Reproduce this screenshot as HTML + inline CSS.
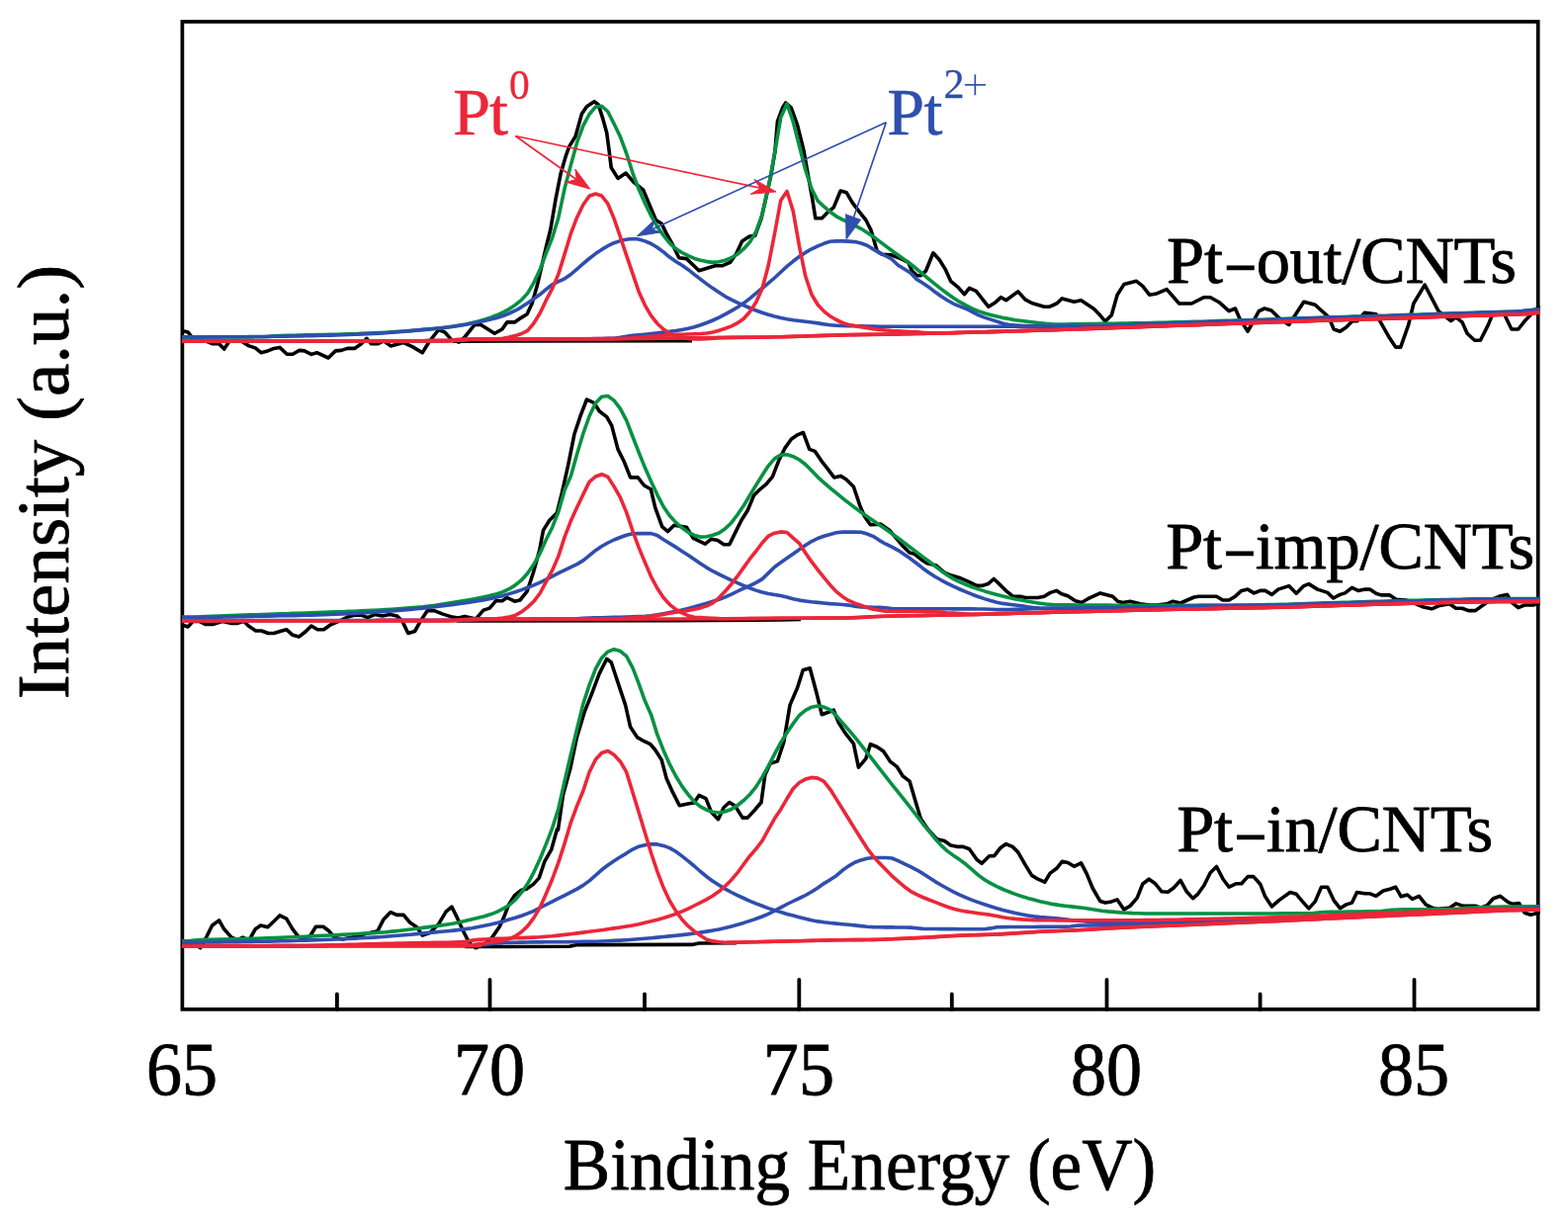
<!DOCTYPE html>
<html lang="en">
<head>
<meta charset="utf-8">
<title>Pt 4f XPS spectra</title>
<style>
html,body{margin:0;padding:0;background:#fff;}
body{width:1586px;height:1240px;overflow:hidden;}
svg{display:block;}
text{font-kerning:normal;stroke-linejoin:round;}
.k{fill:#000;stroke:#000;stroke-width:0.8px;}
.r{fill:#ec2639;stroke:#ec2639;stroke-width:0.5px;}
.b{fill:#2f4eae;stroke:#2f4eae;stroke-width:0.5px;}
</style>
</head>
<body>
<svg width="1586" height="1240" viewBox="0 0 1586 1240" role="img" aria-label="Pt 4f XPS spectra of Pt-out/CNTs, Pt-imp/CNTs and Pt-in/CNTs">
<rect width="1586" height="1240" fill="#fff"/>
<rect x="184.4" y="21.9" width="1371.3" height="998.95" fill="none" stroke="#000" stroke-width="3.7"/>
<path d="M495.5 1021 V991 M808.3 1021 V991 M1119.5 1021 V991 M1430.5 1021 V991 M340.9 1021 V1005.5 M652.0 1021 V1005.5 M962.8 1021 V1005.5 M1274.6 1021 V1005.5" stroke="#000" stroke-width="3.8" stroke-linecap="round" fill="none"/>
<clipPath id="c"><rect x="184.1" y="21.9" width="1373.6" height="998.95"/></clipPath>
<g clip-path="url(#c)">
<path d="M470.0 957.5 L576.0 957.3 L584.0 955.6 L700.0 955.4 L707.0 954.0 L745.0 953.7" fill="none" stroke="#000" stroke-width="3.6" stroke-linejoin="round" stroke-linecap="butt" />
<path d="M184.0 954.9 L185.0 954.9 L195.1 953.6 L202.7 958.7 L209.0 947.3 L214.6 936.0 L221.6 930.9 L226.7 939.8 L234.2 948.1 L240.5 950.6 L245.6 948.1 L251.9 951.1 L258.2 939.8 L263.7 936.0 L270.8 937.8 L277.1 931.7 L282.9 925.9 L289.7 929.2 L296.0 939.8 L302.3 947.8 L308.6 948.6 L313.7 946.8 L319.5 937.3 L327.0 937.3 L332.6 941.5 L338.9 948.6 L346.5 949.9 L356.5 948.1 L366.6 945.3 L381.8 941.8 L388.1 929.7 L395.1 922.6 L401.4 925.4 L408.2 925.4 L414.6 933.0 L421.6 937.8 L427.2 946.1 L434.7 943.6 L443.6 934.7 L451.1 922.1 L456.9 917.1 L462.5 928.4 L468.8 942.3 L474.6 953.6 L481.4 958.7 L490.2 954.9 L497.8 948.1 L505.3 937.3 L510.4 925.9 L514.2 915.8 L520.5 905.7 L527.5 900.2 L533.1 898.9 L539.4 894.4 L545.2 888.1 L550.7 871.7 L557.8 859.1 L563.4 838.9 L564.5 839.2 L569.5 803.9 L577.1 776.2 L583.4 745.9 L591.0 720.7 L598.5 701.8 L606.1 681.6 L613.7 666.5 L618.2 669.8 L625.0 690.4 L632.6 713.1 L637.6 735.3 L644.7 745.9 L651.5 749.7 L657.8 752.7 L662.8 758.5 L669.2 768.6 L674.2 787.5 L680.5 801.4 L687.3 814.8 L696.9 812.8 L701.9 812.0 L707.0 804.4 L714.0 807.7 L719.6 821.6 L726.4 828.7 L732.2 816.5 L737.8 811.5 L743.6 815.3 L751.1 827.1 L756.2 827.1 L762.5 820.3 L770.0 811.5 L773.8 783.8 L778.9 772.4 L786.4 769.9 L792.7 751.0 L799.0 713.1 L806.6 695.5 L812.2 677.8 L819.2 675.8 L825.5 699.3 L831.3 722.7 L843.2 718.2 L848.2 730.8 L854.5 740.9 L863.4 752.2 L868.4 776.2 L875.8 767.4 L880.4 752.7 L887.2 755.5 L893.5 759.8 L900.6 770.4 L907.4 775.7 L913.2 785.0 L920.0 790.1 L926.3 811.5 L931.3 827.9 L938.9 839.2 L947.7 848.8 L955.3 850.6 L961.6 854.9 L969.2 856.4 L974.2 856.4 L980.5 858.7 L988.1 869.5 L993.1 873.3 L1000.7 865.7 L1005.7 865.7 L1012.0 857.4 L1017.6 853.6 L1024.1 856.4 L1029.7 861.9 L1037.3 875.1 L1043.6 885.4 L1049.9 889.2 L1056.7 892.2 L1062.0 883.4 L1068.8 878.3 L1074.3 871.3 L1080.1 872.5 L1086.4 876.3 L1093.5 872.8 L1099.0 883.4 L1105.3 898.5 L1112.9 911.6 L1118.0 913.1 L1124.3 911.9 L1130.1 909.9 L1136.9 919.9 L1143.2 916.2 L1150.2 908.1 L1155.8 894.0 L1162.1 889.2 L1167.6 893.0 L1170.0 895.5 L1175.0 901.8 L1181.3 902.3 L1187.2 898.0 L1194.0 890.4 L1200.3 901.8 L1206.6 908.6 L1211.6 904.3 L1217.9 895.5 L1224.2 882.8 L1230.5 876.5 L1236.8 888.7 L1243.1 897.2 L1250.7 893.7 L1255.8 893.7 L1262.1 886.6 L1267.9 886.6 L1274.7 894.2 L1279.7 906.8 L1286.5 916.9 L1293.6 910.6 L1304.9 902.5 L1311.2 904.3 L1317.5 911.9 L1323.8 918.9 L1330.2 911.9 L1336.5 897.2 L1342.8 897.2 L1349.1 910.6 L1355.4 918.7 L1361.7 914.9 L1367.5 913.1 L1372.5 902.5 L1380.6 903.8 L1385.6 903.8 L1391.9 906.3 L1399.0 901.0 L1405.8 899.2 L1411.6 897.2 L1417.2 906.8 L1423.5 905.0 L1428.5 909.3 L1435.3 906.3 L1442.4 915.1 L1448.7 918.2 L1455.0 919.4 L1466.3 918.2 L1472.6 913.9 L1480.2 916.4 L1492.8 916.4 L1497.9 918.2 L1504.2 915.6 L1510.5 908.8 L1517.5 906.3 L1525.6 912.6 L1530.7 914.4 L1536.5 913.6 L1542.0 923.2 L1548.3 925.2 L1555.9 923.2 L1557.8 923.2" fill="none" stroke="#000" stroke-width="3.6" stroke-linejoin="round" stroke-linecap="butt" />
<path d="M184.0 951.9 L190.2 951.7 L196.5 951.1 L202.7 950.6 L209.0 950.4 L215.2 950.2 L221.5 950.1 L227.7 950.0 L234.0 949.8 L240.2 949.7 L246.4 949.6 L252.7 949.4 L258.9 949.3 L265.2 949.0 L271.4 948.8 L277.7 948.6 L283.9 948.3 L290.2 948.0 L296.4 947.8 L302.6 947.5 L308.9 947.2 L315.1 946.9 L321.4 946.6 L327.6 946.3 L333.9 946.0 L340.1 945.7 L346.4 945.4 L352.6 945.0 L358.8 944.7 L365.1 944.3 L371.3 943.9 L377.6 943.6 L383.8 943.1 L390.1 942.7 L396.3 942.1 L402.6 941.5 L408.8 940.8 L415.0 940.0 L421.3 939.2 L427.5 938.4 L433.8 937.6 L440.0 936.8 L446.3 935.9 L452.5 935.0 L458.8 934.0 L465.0 932.7 L471.2 931.2 L477.5 929.7 L483.7 928.3 L490.0 926.7 L496.2 924.8 L502.5 922.3 L508.7 919.2 L515.0 915.5 L521.2 910.2 L527.5 902.7 L533.7 893.8 L539.9 882.3 L546.2 868.7 L552.4 853.6 L558.7 837.4 L564.9 817.7 L571.2 789.7 L577.4 763.0 L583.7 736.8 L589.9 711.8 L596.1 692.9 L602.4 676.7 L608.6 665.4 L614.9 659.1 L621.1 656.8 L627.4 658.6 L633.6 663.7 L639.9 675.3 L646.1 691.3 L652.3 708.8 L658.6 722.9 L664.8 742.9 L671.1 758.9 L677.3 772.9 L683.6 785.0 L689.8 795.1 L696.1 803.6 L702.3 810.8 L708.5 815.8 L714.8 819.2 L721.0 821.3 L727.3 822.0 L733.5 820.8 L739.8 818.5 L746.0 814.5 L752.3 809.5 L758.5 803.5 L764.7 795.9 L771.0 785.9 L777.2 774.8 L783.5 762.6 L789.7 751.2 L796.0 741.0 L802.2 731.9 L808.5 723.5 L814.7 718.4 L820.9 715.2 L827.2 713.9 L833.4 715.1 L839.7 717.8 L845.9 723.9 L852.2 731.1 L858.4 738.2 L864.7 745.7 L870.9 753.4 L877.1 761.3 L883.4 769.3 L889.6 777.4 L895.9 785.4 L902.1 793.3 L908.4 801.1 L914.6 808.9 L920.9 816.8 L927.1 824.9 L933.3 833.0 L939.6 840.6 L945.8 848.2 L952.1 855.1 L958.3 860.9 L964.6 865.4 L970.8 869.6 L977.1 874.3 L983.3 879.7 L989.5 885.1 L995.8 889.7 L1002.0 893.4 L1008.3 896.6 L1014.5 899.5 L1020.8 902.0 L1027.0 904.4 L1033.3 906.5 L1039.5 908.4 L1045.7 910.1 L1052.0 911.7 L1058.2 913.1 L1064.5 914.4 L1070.7 915.4 L1077.0 916.2 L1083.2 916.9 L1089.5 917.6 L1095.7 918.3 L1101.9 919.2 L1108.2 920.2 L1114.4 921.2 L1120.7 921.9 L1126.9 922.4 L1133.2 922.9 L1139.4 923.2 L1145.7 923.6 L1151.9 923.8 L1158.1 924.0 L1164.4 924.0 L1170.6 924.0 L1176.9 924.0 L1183.1 924.0 L1189.4 924.0 L1195.6 924.0 L1201.9 924.0 L1208.1 924.0 L1214.3 924.0 L1220.6 924.0 L1226.8 924.0 L1233.1 924.0 L1239.3 924.0 L1245.6 924.0 L1251.8 924.0 L1258.1 924.0 L1264.3 924.0 L1270.6 924.0 L1276.8 924.0 L1283.0 924.0 L1289.3 924.0 L1295.5 923.9 L1301.8 923.9 L1308.0 923.9 L1314.3 923.8 L1320.5 923.8 L1326.8 923.7 L1333.0 923.1 L1339.2 922.5 L1345.5 922.3 L1351.7 922.2 L1358.0 922.2 L1364.2 922.1 L1370.5 922.1 L1376.7 922.0 L1383.0 921.9 L1389.2 921.8 L1395.4 921.7 L1401.7 921.0 L1407.9 920.2 L1414.2 920.0 L1420.4 919.9 L1426.7 919.8 L1432.9 919.8 L1439.2 919.7 L1445.4 919.7 L1451.6 919.6 L1457.9 919.6 L1464.1 919.5 L1470.4 919.4 L1476.6 919.0 L1482.9 918.4 L1489.1 918.0 L1495.4 917.8 L1501.6 917.6 L1507.8 917.4 L1514.1 917.2 L1520.3 917.1 L1526.6 917.1 L1532.8 917.0 L1539.1 916.9 L1545.3 916.8 L1551.6 916.8 L1557.8 916.8" fill="none" stroke="#059142" stroke-width="3.6" stroke-linejoin="round" stroke-linecap="butt" />
<path d="M184.0 953.1 L190.2 953.1 L196.5 953.1 L202.7 953.1 L209.0 953.0 L215.2 953.0 L221.5 952.9 L227.7 952.8 L234.0 952.7 L240.2 952.6 L246.4 952.5 L252.7 952.4 L258.9 952.3 L265.2 952.2 L271.4 952.1 L277.7 952.0 L283.9 951.8 L290.2 951.7 L296.4 951.5 L302.6 951.3 L308.9 951.1 L315.1 950.9 L321.4 950.7 L327.6 950.5 L333.9 950.3 L340.1 950.0 L346.4 949.8 L352.6 949.5 L358.8 949.2 L365.1 948.8 L371.3 948.5 L377.6 948.1 L383.8 947.7 L390.1 947.3 L396.3 946.8 L402.6 946.3 L408.8 945.7 L415.0 945.2 L421.3 944.6 L427.5 944.0 L433.8 943.4 L440.0 942.9 L446.3 942.3 L452.5 941.7 L458.8 941.1 L465.0 940.4 L471.2 939.6 L477.5 938.7 L483.7 937.6 L490.0 936.3 L496.2 935.0 L502.5 933.5 L508.7 931.9 L515.0 930.1 L521.2 928.2 L527.5 926.2 L533.7 923.9 L539.9 921.3 L546.2 918.2 L552.4 915.0 L558.7 911.9 L564.9 908.7 L571.2 905.6 L577.4 902.4 L583.7 899.1 L589.9 895.4 L596.1 890.9 L602.4 885.4 L608.6 879.8 L614.9 875.0 L621.1 870.7 L627.4 866.8 L633.6 863.1 L639.9 859.1 L646.1 856.2 L652.3 854.7 L658.6 853.8 L664.8 853.9 L671.1 855.4 L677.3 857.6 L683.6 861.2 L689.8 865.9 L696.1 870.8 L702.3 876.0 L708.5 881.5 L714.8 886.7 L721.0 891.2 L727.3 895.3 L733.5 899.1 L739.8 902.5 L746.0 905.6 L752.3 908.5 L758.5 911.3 L764.7 913.9 L771.0 916.3 L777.2 918.6 L783.5 920.6 L789.7 922.6 L796.0 924.4 L802.2 926.1 L808.5 927.7 L814.7 929.3 L820.9 930.8 L827.2 931.9 L833.4 932.8 L839.7 933.5 L845.9 934.1 L852.2 934.7 L858.4 935.2 L864.7 935.9 L870.9 936.6 L877.1 937.2 L883.4 937.6 L889.6 937.8 L895.9 937.9 L902.1 937.9 L908.4 938.0 L914.6 938.0 L920.9 938.1 L927.1 938.7 L933.3 939.4 L939.6 939.5 L945.8 939.5 L952.1 939.6 L958.3 939.6 L964.6 939.6 L970.8 939.7 L977.1 939.7 L983.3 939.7 L989.5 939.7 L995.8 939.7 L1002.0 938.9 L1008.3 937.7 L1014.5 937.6 L1020.8 937.5 L1027.0 937.5 L1033.3 937.5 L1039.5 937.5 L1045.7 937.5 L1052.0 937.4 L1058.2 937.4 L1064.5 937.4 L1070.7 937.3 L1077.0 937.3 L1083.2 937.0 L1089.5 936.1 L1095.7 936.0 L1101.9 936.0 L1108.2 936.0 L1114.4 935.9 L1120.7 935.9 L1126.9 935.9 L1133.2 935.8 L1139.4 935.3 L1145.7 934.4 L1151.9 934.2 L1158.1 934.0 L1164.4 933.8 L1170.6 933.7 L1176.9 933.6 L1183.1 933.5 L1189.4 933.4 L1195.6 933.2 L1201.9 933.0 L1208.1 932.7 L1214.3 932.5 L1220.6 932.3 L1226.8 932.1 L1233.1 931.9 L1239.3 931.6 L1245.6 931.4 L1251.8 931.2 L1258.1 931.0 L1264.3 930.7 L1270.6 930.5 L1276.8 930.3 L1283.0 930.1 L1289.3 929.9 L1295.5 929.7 L1301.8 929.4 L1308.0 929.2 L1314.3 928.9 L1320.5 928.6 L1326.8 928.3 L1333.0 928.0 L1339.2 927.7 L1345.5 927.4 L1351.7 927.1 L1358.0 926.8 L1364.2 926.5 L1370.5 926.3 L1376.7 926.0 L1383.0 925.7 L1389.2 925.5 L1395.4 925.2 L1401.7 924.9 L1407.9 924.7 L1414.2 924.4 L1420.4 924.2 L1426.7 923.9 L1432.9 923.6 L1439.2 923.4 L1445.4 923.1 L1451.6 922.9 L1457.9 922.6 L1464.1 922.4 L1470.4 922.1 L1476.6 921.8 L1482.9 921.6 L1489.1 921.3 L1495.4 921.0 L1501.6 920.8 L1507.8 920.5 L1514.1 920.2 L1520.3 920.0 L1526.6 919.7 L1532.8 919.4 L1539.1 919.1 L1545.3 918.8 L1551.6 918.6 L1557.8 918.6" fill="none" stroke="#2f4eae" stroke-width="3.6" stroke-linejoin="round" stroke-linecap="butt" />
<path d="M184.0 956.6 L190.2 956.6 L196.5 956.6 L202.7 956.6 L209.0 956.6 L215.2 956.5 L221.5 956.5 L227.7 956.5 L234.0 956.5 L240.2 956.5 L246.4 956.5 L252.7 956.5 L258.9 956.5 L265.2 956.5 L271.4 956.5 L277.7 956.4 L283.9 956.4 L290.2 956.4 L296.4 956.4 L302.6 956.4 L308.9 956.4 L315.1 956.4 L321.4 956.4 L327.6 956.4 L333.9 956.3 L340.1 956.3 L346.4 956.3 L352.6 956.3 L358.8 956.3 L365.1 956.3 L371.3 956.3 L377.6 956.3 L383.8 956.3 L390.1 956.3 L396.3 956.2 L402.6 956.2 L408.8 956.2 L415.0 956.2 L421.3 956.2 L427.5 956.2 L433.8 956.2 L440.0 956.2 L446.3 956.2 L452.5 956.1 L458.8 956.1 L465.0 956.1 L471.2 956.1 L477.5 956.1 L483.7 956.0 L490.0 955.5 L496.2 954.8 L502.5 954.0 L508.7 953.5 L515.0 953.4 L521.2 953.2 L527.5 953.1 L533.7 953.0 L539.9 952.9 L546.2 952.9 L552.4 952.8 L558.7 952.8 L564.9 952.7 L571.2 952.7 L577.4 952.6 L583.7 952.5 L589.9 952.4 L596.1 952.3 L602.4 952.2 L608.6 952.0 L614.9 951.7 L621.1 951.4 L627.4 951.1 L633.6 950.7 L639.9 950.2 L646.1 949.7 L652.3 949.2 L658.6 948.7 L664.8 948.1 L671.1 947.5 L677.3 946.9 L683.6 946.3 L689.8 945.6 L696.1 944.9 L702.3 944.0 L708.5 943.1 L714.8 942.1 L721.0 941.1 L727.3 939.9 L733.5 938.5 L739.8 936.9 L746.0 935.2 L752.3 933.4 L758.5 931.4 L764.7 929.3 L771.0 927.0 L777.2 924.4 L783.5 921.2 L789.7 917.8 L796.0 914.5 L802.2 911.5 L808.5 908.5 L814.7 905.5 L820.9 902.0 L827.2 897.9 L833.4 893.6 L839.7 889.7 L845.9 885.7 L852.2 880.3 L858.4 875.9 L864.7 872.2 L870.9 869.9 L877.1 868.2 L883.4 867.5 L889.6 867.5 L895.9 867.5 L902.1 868.0 L908.4 870.7 L914.6 873.7 L920.9 876.6 L927.1 879.8 L933.3 883.4 L939.6 887.6 L945.8 891.6 L952.1 895.3 L958.3 898.8 L964.6 902.2 L970.8 905.2 L977.1 907.9 L983.3 910.4 L989.5 912.6 L995.8 914.8 L1002.0 916.8 L1008.3 918.7 L1014.5 920.5 L1020.8 922.1 L1027.0 923.5 L1033.3 924.8 L1039.5 925.9 L1045.7 926.9 L1052.0 927.6 L1058.2 928.1 L1064.5 928.6 L1070.7 929.1 L1077.0 929.7 L1083.2 930.6 L1089.5 931.2 L1095.7 931.8 L1101.9 932.4 L1108.2 932.9 L1114.4 933.2 L1120.7 933.4 L1126.9 933.5 L1133.2 933.6 L1139.4 933.7 L1145.7 933.7 L1151.9 933.8 L1158.1 933.8 L1164.4 933.8 L1170.6 933.7 L1176.9 933.6 L1183.1 933.4 L1189.4 933.2 L1195.6 932.9 L1201.9 932.7 L1208.1 932.6 L1214.3 932.4 L1220.6 932.2 L1226.8 932.0 L1233.1 931.8 L1239.3 931.6 L1245.6 931.4 L1251.8 931.2 L1258.1 931.0 L1264.3 930.7 L1270.6 930.5 L1276.8 930.3 L1283.0 930.1 L1289.3 929.9 L1295.5 929.7 L1301.8 929.4 L1308.0 929.2 L1314.3 928.9 L1320.5 928.6 L1326.8 928.3 L1333.0 928.0 L1339.2 927.7 L1345.5 927.4 L1351.7 927.1 L1358.0 926.8 L1364.2 926.5 L1370.5 926.3 L1376.7 926.0 L1383.0 925.7 L1389.2 925.5 L1395.4 925.2 L1401.7 924.9 L1407.9 924.7 L1414.2 924.4 L1420.4 924.2 L1426.7 923.9 L1432.9 923.6 L1439.2 923.4 L1445.4 923.1 L1451.6 922.9 L1457.9 922.6 L1464.1 922.4 L1470.4 922.1 L1476.6 921.8 L1482.9 921.6 L1489.1 921.3 L1495.4 921.0 L1501.6 920.8 L1507.8 920.5 L1514.1 920.2 L1520.3 920.0 L1526.6 919.7 L1532.8 919.4 L1539.1 919.1 L1545.3 918.8 L1551.6 918.6 L1557.8 918.6" fill="none" stroke="#2f4eae" stroke-width="3.6" stroke-linejoin="round" stroke-linecap="butt" />
<path d="M184.0 957.1 L190.2 957.1 L196.5 957.1 L202.7 957.1 L209.0 957.1 L215.2 957.0 L221.5 957.0 L227.7 957.0 L234.0 957.0 L240.2 957.0 L246.4 957.0 L252.7 957.0 L258.9 957.0 L265.2 957.0 L271.4 957.0 L277.7 956.9 L283.9 956.9 L290.2 956.9 L296.4 956.9 L302.6 956.9 L308.9 956.9 L315.1 956.9 L321.4 956.9 L327.6 956.9 L333.9 956.8 L340.1 956.8 L346.4 956.8 L352.6 956.8 L358.8 956.8 L365.1 956.8 L371.3 956.8 L377.6 956.8 L383.8 956.8 L390.1 956.8 L396.3 956.7 L402.6 956.7 L408.8 956.7 L415.0 956.7 L421.3 956.7 L427.5 956.7 L433.8 956.7 L440.0 956.7 L446.3 956.7 L452.5 956.6 L458.8 956.6 L465.0 956.6 L471.2 956.6 L477.5 955.8 L483.7 954.8 L490.0 954.0 L496.2 953.3 L502.5 952.4 L508.7 951.3 L515.0 949.6 L521.2 947.0 L527.5 942.5 L533.7 936.6 L539.9 928.4 L546.2 917.8 L552.4 903.9 L558.7 889.0 L564.9 872.2 L571.2 852.6 L577.4 831.8 L583.7 814.9 L589.9 799.8 L596.1 781.0 L602.4 768.3 L608.6 761.5 L614.9 759.5 L621.1 763.5 L627.4 770.2 L633.6 780.9 L639.9 801.2 L646.1 821.6 L652.3 842.0 L658.6 862.8 L664.8 881.3 L671.1 897.8 L677.3 911.0 L683.6 921.4 L689.8 930.0 L696.1 936.7 L702.3 941.9 L708.5 946.3 L714.8 950.3 L721.0 951.9 L727.3 952.8 L733.5 953.3 L739.8 953.4 L746.0 953.3 L752.3 953.1 L758.5 952.8 L764.7 952.7 L771.0 952.5 L777.2 952.4 L783.5 952.3 L789.7 952.1 L796.0 952.0 L802.2 951.8 L808.5 951.7 L814.7 951.5 L820.9 951.4 L827.2 951.2 L833.4 951.1 L839.7 950.9 L845.9 950.8 L852.2 950.7 L858.4 950.7 L864.7 950.6 L870.9 950.6 L877.1 950.5 L883.4 950.4 L889.6 950.3 L895.9 950.0 L902.1 949.7 L908.4 949.5 L914.6 949.2 L920.9 948.9 L927.1 948.6 L933.3 948.3 L939.6 948.0 L945.8 947.6 L952.1 947.2 L958.3 946.8 L964.6 946.5 L970.8 946.2 L977.1 946.0 L983.3 945.8 L989.5 945.6 L995.8 945.4 L1002.0 945.2 L1008.3 944.9 L1014.5 944.6 L1020.8 944.2 L1027.0 943.9 L1033.3 943.5 L1039.5 943.1 L1045.7 942.7 L1052.0 942.3 L1058.2 942.0 L1064.5 941.7 L1070.7 941.5 L1077.0 941.3 L1083.2 941.1 L1089.5 940.8 L1095.7 940.5 L1101.9 940.1 L1108.2 939.7 L1114.4 939.2 L1120.7 938.9 L1126.9 938.6 L1133.2 938.3 L1139.4 938.0 L1145.7 937.7 L1151.9 937.5 L1158.1 937.2 L1164.4 936.9 L1170.6 936.7 L1176.9 936.4 L1183.1 936.2 L1189.4 935.9 L1195.6 935.7 L1201.9 935.4 L1208.1 935.2 L1214.3 934.9 L1220.6 934.6 L1226.8 934.4 L1233.1 934.1 L1239.3 933.8 L1245.6 933.5 L1251.8 933.3 L1258.1 933.0 L1264.3 932.7 L1270.6 932.5 L1276.8 932.2 L1283.0 931.9 L1289.3 931.7 L1295.5 931.4 L1301.8 931.1 L1308.0 930.8 L1314.3 930.5 L1320.5 930.2 L1326.8 929.9 L1333.0 929.6 L1339.2 929.3 L1345.5 929.0 L1351.7 928.7 L1358.0 928.5 L1364.2 928.2 L1370.5 927.9 L1376.7 927.6 L1383.0 927.3 L1389.2 927.0 L1395.4 926.7 L1401.7 926.4 L1407.9 926.1 L1414.2 925.8 L1420.4 925.5 L1426.7 925.2 L1432.9 925.0 L1439.2 924.7 L1445.4 924.4 L1451.6 924.1 L1457.9 923.8 L1464.1 923.5 L1470.4 923.2 L1476.6 922.9 L1482.9 922.6 L1489.1 922.3 L1495.4 922.0 L1501.6 921.7 L1507.8 921.4 L1514.1 921.2 L1520.3 921.0 L1526.6 920.8 L1532.8 920.6 L1539.1 920.5 L1545.3 920.3 L1551.6 920.1 L1557.8 920.1" fill="none" stroke="#ec2639" stroke-width="3.6" stroke-linejoin="round" stroke-linecap="butt" />
<path d="M184.0 957.1 L190.2 957.1 L196.5 957.1 L202.7 957.1 L209.0 957.1 L215.2 957.0 L221.5 957.0 L227.7 957.0 L234.0 957.0 L240.2 957.0 L246.4 957.0 L252.7 957.0 L258.9 957.0 L265.2 957.0 L271.4 957.0 L277.7 956.9 L283.9 956.9 L290.2 956.9 L296.4 956.9 L302.6 956.9 L308.9 956.7 L315.1 956.5 L321.4 956.3 L327.6 956.0 L333.9 955.8 L340.1 955.7 L346.4 955.5 L352.6 955.3 L358.8 955.2 L365.1 955.0 L371.3 954.9 L377.6 954.7 L383.8 954.6 L390.1 954.4 L396.3 954.3 L402.6 954.1 L408.8 954.0 L415.0 953.8 L421.3 953.7 L427.5 953.6 L433.8 953.5 L440.0 953.4 L446.3 953.3 L452.5 953.2 L458.8 953.0 L465.0 952.7 L471.2 952.4 L477.5 951.1 L483.7 950.4 L490.0 950.0 L496.2 949.7 L502.5 949.4 L508.7 949.2 L515.0 949.0 L521.2 948.8 L527.5 948.6 L533.7 948.4 L539.9 948.1 L546.2 947.8 L552.4 947.3 L558.7 946.8 L564.9 946.1 L571.2 945.4 L577.4 944.7 L583.7 943.9 L589.9 943.1 L596.1 942.3 L602.4 941.5 L608.6 940.7 L614.9 939.8 L621.1 938.9 L627.4 938.0 L633.6 937.0 L639.9 935.9 L646.1 934.7 L652.3 933.3 L658.6 931.8 L664.8 930.2 L671.1 928.4 L677.3 926.5 L683.6 924.4 L689.8 921.9 L696.1 919.1 L702.3 916.0 L708.5 912.9 L714.8 909.6 L721.0 906.0 L727.3 901.6 L733.5 896.2 L739.8 889.9 L746.0 882.7 L752.3 874.0 L758.5 865.7 L764.7 858.6 L771.0 850.4 L777.2 839.1 L783.5 827.8 L789.7 818.7 L796.0 807.8 L802.2 797.8 L808.5 791.5 L814.7 788.1 L820.9 786.4 L827.2 787.1 L833.4 790.3 L839.7 798.3 L845.9 808.1 L852.2 818.2 L858.4 828.3 L864.7 838.4 L870.9 848.2 L877.1 858.0 L883.4 866.3 L889.6 873.1 L895.9 879.5 L902.1 885.8 L908.4 891.4 L914.6 896.7 L920.9 901.3 L927.1 904.7 L933.3 907.5 L939.6 910.0 L945.8 912.4 L952.1 914.9 L958.3 917.3 L964.6 919.3 L970.8 920.8 L977.1 921.9 L983.3 922.8 L989.5 923.7 L995.8 924.5 L1002.0 925.4 L1008.3 926.6 L1014.5 927.8 L1020.8 928.7 L1027.0 929.4 L1033.3 929.9 L1039.5 930.3 L1045.7 930.6 L1052.0 930.7 L1058.2 930.8 L1064.5 930.8 L1070.7 930.9 L1077.0 930.9 L1083.2 930.9 L1089.5 930.9 L1095.7 930.9 L1101.9 930.9 L1108.2 930.9 L1114.4 930.9 L1120.7 930.8 L1126.9 930.8 L1133.2 930.8 L1139.4 930.7 L1145.7 930.7 L1151.9 930.7 L1158.1 930.6 L1164.4 930.6 L1170.6 930.5 L1176.9 930.4 L1183.1 930.3 L1189.4 930.2 L1195.6 930.1 L1201.9 929.9 L1208.1 929.8 L1214.3 929.6 L1220.6 929.5 L1226.8 929.4 L1233.1 929.2 L1239.3 929.1 L1245.6 929.0 L1251.8 928.8 L1258.1 928.7 L1264.3 928.6 L1270.6 928.4 L1276.8 928.3 L1283.0 928.1 L1289.3 927.9 L1295.5 927.7 L1301.8 927.5 L1308.0 927.3 L1314.3 927.1 L1320.5 926.8 L1326.8 926.6 L1333.0 926.3 L1339.2 926.0 L1345.5 925.7 L1351.7 925.5 L1358.0 925.2 L1364.2 924.9 L1370.5 924.7 L1376.7 924.4 L1383.0 924.2 L1389.2 923.9 L1395.4 923.7 L1401.7 923.4 L1407.9 923.2 L1414.2 923.0 L1420.4 922.7 L1426.7 922.5 L1432.9 922.2 L1439.2 922.0 L1445.4 921.8 L1451.6 921.6 L1457.9 921.3 L1464.1 921.1 L1470.4 920.9 L1476.6 920.7 L1482.9 920.4 L1489.1 920.1 L1495.4 919.8 L1501.6 919.6 L1507.8 919.4 L1514.1 919.2 L1520.3 919.2 L1526.6 919.3 L1532.8 919.4 L1539.1 919.5 L1545.3 919.7 L1551.6 919.8 L1557.8 919.8" fill="none" stroke="#ec2639" stroke-width="3.6" stroke-linejoin="round" stroke-linecap="butt" />
<path d="M184.0 957.1 L480.0 956.6 L487.0 956.5" fill="none" stroke="#ec2639" stroke-width="3.6" stroke-linejoin="round" stroke-linecap="butt" />
<path d="M735.0 953.4 L860.0 950.5 L885.0 950.5 L930.6 948.5 L973.5 946.0 L1011.0 945.0 L1051.7 942.2 L1087.0 941.0 L1124.8 938.6 L1162.7 937.0 L1200.5 935.5 L1260.0 932.9 L1300.0 931.2 L1371.8 927.8 L1472.7 923.1 L1520.0 920.9 L1556.0 920.1 L1557.8 920.1" fill="none" stroke="#ec2639" stroke-width="3.6" stroke-linejoin="round" stroke-linecap="butt" />
<path d="M462.0 627.9 L680.0 627.7 L790.0 626.9 L810.0 626.5" fill="none" stroke="#000" stroke-width="3.6" stroke-linejoin="round" stroke-linecap="butt" />
<path d="M184.0 632.2 L185.0 632.2 L190.1 634.0 L195.1 628.4 L201.4 628.4 L207.7 631.5 L215.3 631.5 L225.4 628.4 L234.2 630.4 L240.5 630.4 L246.8 628.4 L251.9 633.5 L258.7 638.0 L264.5 638.0 L271.3 640.5 L277.1 640.5 L283.4 638.5 L289.7 636.7 L296.0 642.3 L302.3 644.1 L308.6 639.3 L314.9 633.0 L321.2 636.7 L327.5 636.7 L333.8 632.2 L343.9 627.9 L351.5 624.1 L359.1 622.1 L365.4 622.1 L371.7 624.6 L379.2 621.6 L386.8 622.9 L394.4 621.6 L401.4 622.9 L407.0 628.4 L412.8 640.5 L419.6 638.5 L425.9 627.2 L432.2 617.8 L439.8 617.8 L447.3 620.9 L457.4 624.1 L463.7 625.1 L470.0 623.4 L481.4 625.9 L489.0 617.1 L495.3 615.1 L501.6 607.7 L507.9 607.7 L512.9 604.5 L520.5 608.2 L526.0 607.0 L533.1 598.2 L539.4 579.2 L545.7 556.5 L549.5 536.4 L555.8 526.3 L563.4 518.7 L568.4 498.5 L574.6 470.8 L580.9 439.3 L587.2 420.4 L593.5 404.0 L601.1 407.7 L606.1 415.8 L613.7 421.6 L618.7 430.4 L625.0 454.4 L631.3 467.0 L637.6 482.9 L645.2 482.9 L651.5 491.0 L658.3 494.8 L662.8 513.7 L669.7 532.6 L675.5 537.6 L681.8 531.3 L694.4 533.3 L701.2 544.4 L713.3 550.2 L719.6 545.2 L725.9 546.5 L732.2 550.7 L737.8 550.7 L743.6 538.9 L749.9 526.3 L756.2 516.2 L762.5 501.1 L768.8 494.8 L775.1 489.7 L781.4 482.1 L787.7 465.8 L794.0 453.1 L800.3 444.3 L806.6 439.8 L812.4 437.5 L818.7 454.4 L824.3 456.4 L830.6 465.8 L836.9 473.8 L843.7 482.9 L850.2 481.4 L855.8 484.7 L863.4 492.2 L869.7 511.1 L874.6 522.5 L880.4 530.8 L891.0 530.1 L899.8 536.4 L906.1 543.9 L913.7 552.8 L920.0 559.1 L925.0 560.3 L931.3 565.4 L937.6 569.7 L946.5 571.7 L955.3 579.2 L961.6 581.8 L971.7 584.8 L979.2 588.1 L988.1 592.4 L993.1 592.4 L999.4 590.6 L1005.2 585.5 L1012.0 591.9 L1018.3 598.2 L1024.6 603.2 L1032.2 603.2 L1037.3 604.5 L1049.9 604.5 L1056.2 603.2 L1062.5 599.4 L1068.8 597.4 L1073.8 600.7 L1080.1 602.7 L1087.7 607.7 L1094.0 609.5 L1100.3 605.7 L1112.9 599.9 L1125.5 603.2 L1130.6 608.2 L1135.6 609.5 L1143.2 608.2 L1153.3 610.8 L1163.4 612.0 L1170.0 612.0 L1180.1 610.8 L1186.4 608.2 L1194.0 610.0 L1207.8 604.0 L1212.9 603.2 L1230.5 603.2 L1236.8 607.0 L1243.1 607.0 L1249.4 603.2 L1255.8 597.4 L1262.1 596.1 L1268.4 599.9 L1274.7 597.4 L1279.7 597.4 L1286.5 601.4 L1292.8 596.1 L1303.7 592.6 L1311.2 600.2 L1318.8 592.6 L1323.8 590.6 L1332.7 596.1 L1342.8 599.4 L1348.6 605.0 L1355.4 601.4 L1360.4 599.9 L1367.5 594.4 L1373.8 597.4 L1380.6 596.1 L1385.6 596.1 L1391.9 600.2 L1397.0 601.9 L1405.8 601.9 L1412.1 606.2 L1422.2 607.0 L1432.3 610.8 L1439.9 614.0 L1448.2 615.8 L1455.0 612.8 L1466.3 610.8 L1472.6 615.3 L1479.0 615.3 L1485.3 617.6 L1492.3 617.6 L1502.9 610.0 L1510.5 605.7 L1518.0 602.7 L1524.4 601.4 L1529.4 609.5 L1535.7 614.6 L1542.0 612.0 L1550.8 612.0 L1555.9 610.0 L1557.8 610.0" fill="none" stroke="#000" stroke-width="3.6" stroke-linejoin="round" stroke-linecap="butt" />
<path d="M184.0 624.1 L190.2 624.1 L196.5 624.0 L202.7 623.8 L209.0 623.5 L215.2 623.2 L221.5 623.0 L227.7 622.7 L234.0 622.5 L240.2 622.3 L246.4 622.1 L252.7 621.9 L258.9 621.7 L265.2 621.5 L271.4 621.3 L277.7 621.1 L283.9 620.9 L290.2 620.7 L296.4 620.4 L302.6 620.2 L308.9 620.0 L315.1 619.8 L321.4 619.6 L327.6 619.3 L333.9 619.1 L340.1 618.9 L346.4 618.7 L352.6 618.4 L358.8 618.2 L365.1 617.9 L371.3 617.6 L377.6 617.3 L383.8 617.0 L390.1 616.6 L396.3 616.2 L402.6 615.8 L408.8 615.4 L415.0 614.9 L421.3 614.3 L427.5 613.8 L433.8 613.1 L440.0 612.3 L446.3 611.3 L452.5 610.3 L458.8 609.3 L465.0 608.3 L471.2 607.3 L477.5 606.2 L483.7 605.0 L490.0 603.7 L496.2 602.3 L502.5 600.7 L508.7 598.6 L515.0 595.7 L521.2 591.9 L527.5 586.7 L533.7 579.8 L539.9 570.8 L546.2 559.5 L552.4 545.7 L558.7 533.2 L564.9 517.6 L571.2 495.4 L577.4 481.5 L583.7 459.1 L589.9 438.5 L596.1 421.0 L602.4 407.8 L608.6 401.3 L614.9 400.5 L621.1 405.1 L627.4 413.3 L633.6 425.2 L639.9 441.5 L646.1 457.4 L652.3 472.8 L658.6 487.1 L664.8 500.3 L671.1 512.5 L677.3 521.5 L683.6 528.4 L689.8 533.8 L696.1 538.4 L702.3 541.4 L708.5 543.1 L714.8 542.7 L721.0 541.2 L727.3 539.0 L733.5 534.8 L739.8 528.7 L746.0 520.5 L752.3 511.3 L758.5 500.9 L764.7 490.7 L771.0 480.7 L777.2 471.1 L783.5 463.9 L789.7 460.1 L796.0 459.8 L802.2 461.7 L808.5 465.0 L814.7 469.7 L820.9 476.0 L827.2 482.6 L833.4 488.2 L839.7 493.6 L845.9 498.7 L852.2 503.8 L858.4 508.7 L864.7 513.5 L870.9 518.0 L877.1 522.4 L883.4 526.8 L889.6 531.0 L895.9 535.3 L902.1 539.7 L908.4 544.3 L914.6 549.0 L920.9 553.7 L927.1 558.4 L933.3 563.1 L939.6 567.8 L945.8 572.6 L952.1 577.4 L958.3 581.7 L964.6 585.6 L970.8 588.7 L977.1 591.4 L983.3 593.8 L989.5 595.9 L995.8 597.9 L1002.0 599.7 L1008.3 601.4 L1014.5 603.0 L1020.8 604.5 L1027.0 605.9 L1033.3 607.1 L1039.5 608.3 L1045.7 609.3 L1052.0 610.2 L1058.2 611.0 L1064.5 611.6 L1070.7 611.8 L1077.0 611.9 L1083.2 611.9 L1089.5 612.0 L1095.7 612.0 L1101.9 612.1 L1108.2 612.1 L1114.4 612.1 L1120.7 612.1 L1126.9 612.2 L1133.2 612.2 L1139.4 612.2 L1145.7 612.2 L1151.9 612.2 L1158.1 612.2 L1164.4 612.2 L1170.6 612.2 L1176.9 612.2 L1183.1 612.2 L1189.4 612.2 L1195.6 612.2 L1201.9 612.2 L1208.1 612.2 L1214.3 612.1 L1220.6 612.1 L1226.8 612.1 L1233.1 612.1 L1239.3 612.1 L1245.6 612.1 L1251.8 612.0 L1258.1 612.0 L1264.3 612.0 L1270.6 611.9 L1276.8 611.8 L1283.0 611.6 L1289.3 611.5 L1295.5 611.3 L1301.8 611.2 L1308.0 611.0 L1314.3 610.8 L1320.5 610.5 L1326.8 610.3 L1333.0 610.1 L1339.2 609.9 L1345.5 609.7 L1351.7 609.6 L1358.0 609.4 L1364.2 609.2 L1370.5 609.0 L1376.7 608.8 L1383.0 608.6 L1389.2 608.4 L1395.4 608.2 L1401.7 608.1 L1407.9 607.9 L1414.2 607.7 L1420.4 607.5 L1426.7 607.4 L1432.9 607.2 L1439.2 607.1 L1445.4 606.9 L1451.6 606.8 L1457.9 606.6 L1464.1 606.5 L1470.4 606.3 L1476.6 606.2 L1482.9 606.0 L1489.1 605.9 L1495.4 605.8 L1501.6 605.7 L1507.8 605.7 L1514.1 605.6 L1520.3 605.6 L1526.6 605.5 L1532.8 605.5 L1539.1 605.5 L1545.3 605.5 L1551.6 605.5 L1557.8 605.5" fill="none" stroke="#059142" stroke-width="3.6" stroke-linejoin="round" stroke-linecap="butt" />
<path d="M184.0 624.6 L190.2 624.6 L196.5 624.6 L202.7 624.5 L209.0 624.4 L215.2 624.3 L221.5 624.2 L227.7 624.0 L234.0 623.9 L240.2 623.7 L246.4 623.6 L252.7 623.4 L258.9 623.3 L265.2 623.2 L271.4 623.1 L277.7 622.9 L283.9 622.8 L290.2 622.7 L296.4 622.6 L302.6 622.4 L308.9 622.3 L315.1 622.1 L321.4 621.9 L327.6 621.7 L333.9 621.5 L340.1 621.3 L346.4 621.0 L352.6 620.7 L358.8 620.4 L365.1 620.0 L371.3 619.6 L377.6 619.2 L383.8 618.8 L390.1 618.4 L396.3 617.9 L402.6 617.4 L408.8 616.9 L415.0 616.4 L421.3 615.8 L427.5 615.1 L433.8 614.4 L440.0 613.7 L446.3 612.9 L452.5 612.2 L458.8 611.4 L465.0 610.5 L471.2 609.7 L477.5 608.8 L483.7 607.8 L490.0 606.7 L496.2 605.5 L502.5 604.1 L508.7 602.5 L515.0 600.6 L521.2 598.7 L527.5 596.6 L533.7 594.3 L539.9 591.8 L546.2 589.1 L552.4 586.1 L558.7 582.9 L564.9 579.7 L571.2 576.6 L577.4 573.7 L583.7 570.6 L589.9 566.9 L596.1 561.9 L602.4 556.7 L608.6 552.5 L614.9 549.0 L621.1 546.0 L627.4 543.5 L633.6 541.2 L639.9 539.7 L646.1 539.6 L652.3 539.6 L658.6 539.6 L664.8 541.5 L671.1 545.7 L677.3 549.5 L683.6 553.4 L689.8 557.4 L696.1 561.4 L702.3 565.7 L708.5 570.0 L714.8 574.1 L721.0 577.7 L727.3 580.9 L733.5 583.9 L739.8 586.8 L746.0 589.6 L752.3 592.3 L758.5 594.8 L764.7 597.1 L771.0 599.0 L777.2 600.4 L783.5 601.5 L789.7 602.6 L796.0 604.0 L802.2 605.7 L808.5 607.1 L814.7 608.0 L820.9 608.8 L827.2 609.4 L833.4 610.0 L839.7 610.6 L845.9 611.0 L852.2 611.5 L858.4 612.1 L864.7 613.2 L870.9 614.0 L877.1 614.1 L883.4 614.2 L889.6 614.2 L895.9 614.8 L902.1 615.6 L908.4 615.7 L914.6 615.7 L920.9 615.8 L927.1 615.8 L933.3 615.8 L939.6 615.8 L945.8 615.8 L952.1 615.8 L958.3 615.8 L964.6 615.9 L970.8 615.9 L977.1 615.9 L983.3 615.9 L989.5 616.0 L995.8 616.0 L1002.0 616.3 L1008.3 616.6 L1014.5 616.6 L1020.8 616.5 L1027.0 616.3 L1033.3 616.1 L1039.5 615.9 L1045.7 615.7 L1052.0 615.5 L1058.2 615.3 L1064.5 615.3 L1070.7 615.2 L1077.0 615.2 L1083.2 615.2 L1089.5 615.1 L1095.7 615.1 L1101.9 615.1 L1108.2 615.0 L1114.4 615.0 L1120.7 614.9 L1126.9 614.8 L1133.2 614.7 L1139.4 614.6 L1145.7 614.5 L1151.9 614.3 L1158.1 614.2 L1164.4 614.1 L1170.6 613.9 L1176.9 613.8 L1183.1 613.7 L1189.4 613.6 L1195.6 613.5 L1201.9 613.4 L1208.1 613.3 L1214.3 613.2 L1220.6 613.1 L1226.8 613.0 L1233.1 612.9 L1239.3 612.8 L1245.6 612.7 L1251.8 612.6 L1258.1 612.5 L1264.3 612.4 L1270.6 612.3 L1276.8 612.2 L1283.0 612.1 L1289.3 612.0 L1295.5 611.9 L1301.8 611.8 L1308.0 611.6 L1314.3 611.4 L1320.5 611.2 L1326.8 610.9 L1333.0 610.7 L1339.2 610.5 L1345.5 610.3 L1351.7 610.2 L1358.0 610.0 L1364.2 609.8 L1370.5 609.6 L1376.7 609.4 L1383.0 609.2 L1389.2 609.0 L1395.4 608.8 L1401.7 608.7 L1407.9 608.5 L1414.2 608.3 L1420.4 608.1 L1426.7 608.0 L1432.9 607.8 L1439.2 607.7 L1445.4 607.5 L1451.6 607.4 L1457.9 607.2 L1464.1 607.1 L1470.4 606.9 L1476.6 606.8 L1482.9 606.6 L1489.1 606.5 L1495.4 606.4 L1501.6 606.3 L1507.8 606.3 L1514.1 606.2 L1520.3 606.2 L1526.6 606.1 L1532.8 606.1 L1539.1 606.1 L1545.3 606.1 L1551.6 606.1 L1557.8 606.1" fill="none" stroke="#2f4eae" stroke-width="3.6" stroke-linejoin="round" stroke-linecap="butt" />
<path d="M184.0 627.5 L190.2 627.5 L196.5 627.5 L202.7 627.5 L209.0 627.5 L215.2 627.5 L221.5 627.5 L227.7 627.5 L234.0 627.5 L240.2 627.5 L246.4 627.5 L252.7 627.5 L258.9 627.5 L265.2 627.5 L271.4 627.5 L277.7 627.5 L283.9 627.5 L290.2 627.5 L296.4 627.5 L302.6 627.5 L308.9 627.5 L315.1 627.5 L321.4 627.5 L327.6 627.5 L333.9 627.5 L340.1 627.5 L346.4 627.5 L352.6 627.5 L358.8 627.5 L365.1 627.5 L371.3 627.5 L377.6 627.5 L383.8 627.4 L390.1 627.4 L396.3 627.4 L402.6 627.4 L408.8 627.4 L415.0 627.4 L421.3 627.4 L427.5 627.4 L433.8 627.4 L440.0 627.4 L446.3 627.4 L452.5 627.4 L458.8 627.3 L465.0 627.1 L471.2 626.7 L477.5 626.4 L483.7 626.3 L490.0 626.2 L496.2 626.2 L502.5 626.2 L508.7 626.2 L515.0 626.2 L521.2 626.2 L527.5 626.2 L533.7 626.2 L539.9 626.1 L546.2 626.1 L552.4 626.1 L558.7 626.1 L564.9 626.1 L571.2 626.1 L577.4 626.1 L583.7 625.9 L589.9 625.4 L596.1 625.0 L602.4 624.8 L608.6 624.7 L614.9 624.6 L621.1 624.4 L627.4 624.3 L633.6 624.1 L639.9 623.8 L646.1 623.5 L652.3 623.2 L658.6 622.7 L664.8 621.8 L671.1 620.7 L677.3 619.5 L683.6 618.2 L689.8 616.9 L696.1 615.4 L702.3 613.8 L708.5 612.0 L714.8 610.2 L721.0 608.3 L727.3 606.3 L733.5 603.9 L739.8 601.1 L746.0 598.0 L752.3 595.0 L758.5 592.3 L764.7 589.4 L771.0 585.6 L777.2 579.6 L783.5 573.5 L789.7 568.9 L796.0 564.6 L802.2 560.2 L808.5 555.8 L814.7 551.6 L820.9 547.6 L827.2 544.5 L833.4 542.2 L839.7 540.4 L845.9 538.8 L852.2 538.1 L858.4 538.1 L864.7 538.1 L870.9 538.3 L877.1 540.0 L883.4 542.6 L889.6 546.6 L895.9 550.2 L902.1 553.2 L908.4 556.6 L914.6 560.7 L920.9 565.1 L927.1 569.8 L933.3 574.7 L939.6 579.3 L945.8 583.2 L952.1 586.8 L958.3 590.1 L964.6 593.2 L970.8 596.0 L977.1 598.7 L983.3 601.2 L989.5 603.5 L995.8 605.6 L1002.0 607.5 L1008.3 609.2 L1014.5 610.4 L1020.8 611.2 L1027.0 612.0 L1033.3 612.8 L1039.5 613.8 L1045.7 614.5 L1052.0 615.0 L1058.2 615.2 L1064.5 615.3 L1070.7 615.3 L1077.0 615.3 L1083.2 615.2 L1089.5 615.2 L1095.7 615.1 L1101.9 615.1 L1108.2 615.0 L1114.4 615.0 L1120.7 614.9 L1126.9 614.8 L1133.2 614.7 L1139.4 614.6 L1145.7 614.5 L1151.9 614.3 L1158.1 614.2 L1164.4 614.1 L1170.6 613.9 L1176.9 613.8 L1183.1 613.7 L1189.4 613.6 L1195.6 613.5 L1201.9 613.4 L1208.1 613.3 L1214.3 613.2 L1220.6 613.1 L1226.8 613.0 L1233.1 612.9 L1239.3 612.8 L1245.6 612.7 L1251.8 612.6 L1258.1 612.5 L1264.3 612.4 L1270.6 612.3 L1276.8 612.2 L1283.0 612.1 L1289.3 612.0 L1295.5 611.9 L1301.8 611.8 L1308.0 611.6 L1314.3 611.4 L1320.5 611.2 L1326.8 610.9 L1333.0 610.7 L1339.2 610.5 L1345.5 610.3 L1351.7 610.2 L1358.0 610.0 L1364.2 609.8 L1370.5 609.6 L1376.7 609.4 L1383.0 609.2 L1389.2 609.0 L1395.4 608.8 L1401.7 608.7 L1407.9 608.5 L1414.2 608.3 L1420.4 608.1 L1426.7 608.0 L1432.9 607.8 L1439.2 607.7 L1445.4 607.5 L1451.6 607.4 L1457.9 607.2 L1464.1 607.1 L1470.4 606.9 L1476.6 606.8 L1482.9 606.6 L1489.1 606.5 L1495.4 606.4 L1501.6 606.3 L1507.8 606.3 L1514.1 606.2 L1520.3 606.2 L1526.6 606.1 L1532.8 606.1 L1539.1 606.1 L1545.3 606.1 L1551.6 606.1 L1557.8 606.1" fill="none" stroke="#2f4eae" stroke-width="3.6" stroke-linejoin="round" stroke-linecap="butt" />
<path d="M184.0 627.7 L190.2 627.7 L196.5 627.7 L202.7 627.7 L209.0 627.7 L215.2 627.7 L221.5 627.7 L227.7 627.7 L234.0 627.7 L240.2 627.7 L246.4 627.7 L252.7 627.7 L258.9 627.7 L265.2 627.7 L271.4 627.7 L277.7 627.7 L283.9 627.7 L290.2 627.7 L296.4 627.7 L302.6 627.7 L308.9 627.7 L315.1 627.7 L321.4 627.7 L327.6 627.7 L333.9 627.7 L340.1 627.7 L346.4 627.7 L352.6 627.7 L358.8 627.7 L365.1 627.7 L371.3 627.7 L377.6 627.7 L383.8 627.6 L390.1 627.6 L396.3 627.6 L402.6 627.6 L408.8 627.6 L415.0 627.6 L421.3 627.6 L427.5 627.6 L433.8 627.6 L440.0 627.6 L446.3 627.6 L452.5 627.6 L458.8 627.5 L465.0 627.2 L471.2 626.9 L477.5 626.6 L483.7 626.4 L490.0 626.3 L496.2 626.1 L502.5 625.7 L508.7 625.0 L515.0 624.0 L521.2 622.4 L527.5 618.9 L533.7 614.1 L539.9 608.3 L546.2 600.0 L552.4 588.4 L558.7 576.7 L564.9 562.4 L571.2 542.9 L577.4 526.8 L583.7 513.1 L589.9 499.9 L596.1 487.4 L602.4 482.0 L608.6 479.7 L614.9 482.4 L621.1 492.1 L627.4 503.2 L633.6 518.1 L639.9 536.9 L646.1 553.6 L652.3 568.6 L658.6 583.3 L664.8 595.0 L671.1 604.5 L677.3 611.3 L683.6 616.4 L689.8 619.9 L696.1 622.7 L702.3 624.2 L708.5 624.6 L714.8 625.0 L721.0 625.3 L727.3 625.6 L733.5 625.7 L739.8 625.7 L746.0 625.7 L752.3 625.7 L758.5 625.6 L764.7 625.6 L771.0 625.5 L777.2 625.5 L783.5 625.4 L789.7 625.4 L796.0 625.3 L802.2 625.3 L808.5 625.3 L814.7 625.2 L820.9 625.2 L827.2 625.1 L833.4 625.1 L839.7 625.1 L845.9 625.0 L852.2 625.0 L858.4 624.9 L864.7 624.8 L870.9 624.5 L877.1 624.1 L883.4 623.7 L889.6 623.5 L895.9 623.3 L902.1 623.1 L908.4 623.0 L914.6 622.9 L920.9 622.8 L927.1 622.7 L933.3 622.6 L939.6 622.4 L945.8 622.3 L952.1 622.2 L958.3 622.1 L964.6 622.0 L970.8 621.9 L977.1 621.7 L983.3 621.6 L989.5 621.4 L995.8 621.2 L1002.0 621.0 L1008.3 620.8 L1014.5 620.6 L1020.8 620.5 L1027.0 620.3 L1033.3 620.1 L1039.5 619.9 L1045.7 619.8 L1052.0 619.6 L1058.2 619.4 L1064.5 619.3 L1070.7 619.1 L1077.0 619.0 L1083.2 618.8 L1089.5 618.7 L1095.7 618.5 L1101.9 618.4 L1108.2 618.2 L1114.4 618.1 L1120.7 617.9 L1126.9 617.8 L1133.2 617.6 L1139.4 617.4 L1145.7 617.2 L1151.9 617.1 L1158.1 616.9 L1164.4 616.8 L1170.6 616.6 L1176.9 616.5 L1183.1 616.4 L1189.4 616.2 L1195.6 616.1 L1201.9 616.0 L1208.1 615.9 L1214.3 615.8 L1220.6 615.7 L1226.8 615.6 L1233.1 615.4 L1239.3 615.3 L1245.6 615.2 L1251.8 615.1 L1258.1 615.0 L1264.3 614.8 L1270.6 614.7 L1276.8 614.6 L1283.0 614.5 L1289.3 614.3 L1295.5 614.2 L1301.8 614.0 L1308.0 613.8 L1314.3 613.7 L1320.5 613.5 L1326.8 613.3 L1333.0 613.0 L1339.2 612.8 L1345.5 612.6 L1351.7 612.5 L1358.0 612.3 L1364.2 612.1 L1370.5 611.9 L1376.7 611.7 L1383.0 611.5 L1389.2 611.3 L1395.4 611.1 L1401.7 610.9 L1407.9 610.8 L1414.2 610.6 L1420.4 610.5 L1426.7 610.3 L1432.9 610.1 L1439.2 610.0 L1445.4 609.8 L1451.6 609.7 L1457.9 609.5 L1464.1 609.4 L1470.4 609.3 L1476.6 609.1 L1482.9 609.0 L1489.1 608.9 L1495.4 608.7 L1501.6 608.6 L1507.8 608.5 L1514.1 608.4 L1520.3 608.4 L1526.6 608.4 L1532.8 608.4 L1539.1 608.4 L1545.3 608.4 L1551.6 608.4 L1557.8 608.4" fill="none" stroke="#ec2639" stroke-width="3.6" stroke-linejoin="round" stroke-linecap="butt" />
<path d="M184.0 627.7 L190.2 627.7 L196.5 627.7 L202.7 627.7 L209.0 627.7 L215.2 627.7 L221.5 627.7 L227.7 627.7 L234.0 627.7 L240.2 627.7 L246.4 627.7 L252.7 627.7 L258.9 627.7 L265.2 627.7 L271.4 627.7 L277.7 627.7 L283.9 627.7 L290.2 627.7 L296.4 627.7 L302.6 627.7 L308.9 627.7 L315.1 627.7 L321.4 627.7 L327.6 627.7 L333.9 627.7 L340.1 627.7 L346.4 627.7 L352.6 627.7 L358.8 627.7 L365.1 627.7 L371.3 627.7 L377.6 627.7 L383.8 627.6 L390.1 627.6 L396.3 627.6 L402.6 627.6 L408.8 627.6 L415.0 627.6 L421.3 627.6 L427.5 627.6 L433.8 627.6 L440.0 627.6 L446.3 627.6 L452.5 627.6 L458.8 627.5 L465.0 627.3 L471.2 626.9 L477.5 626.6 L483.7 626.5 L490.0 626.4 L496.2 626.4 L502.5 626.4 L508.7 626.4 L515.0 626.4 L521.2 626.4 L527.5 626.4 L533.7 626.4 L539.9 626.3 L546.2 626.3 L552.4 626.3 L558.7 626.3 L564.9 626.3 L571.2 626.3 L577.4 626.3 L583.7 626.3 L589.9 626.2 L596.1 626.2 L602.4 626.2 L608.6 626.1 L614.9 626.0 L621.1 625.8 L627.4 625.6 L633.6 625.2 L639.9 624.8 L646.1 624.3 L652.3 623.8 L658.6 623.2 L664.8 622.4 L671.1 621.4 L677.3 620.3 L683.6 619.3 L689.8 618.4 L696.1 617.4 L702.3 616.3 L708.5 614.9 L714.8 612.9 L721.0 609.9 L727.3 604.5 L733.5 598.0 L739.8 590.7 L746.0 582.7 L752.3 573.9 L758.5 565.2 L764.7 557.5 L771.0 549.0 L777.2 542.2 L783.5 539.2 L789.7 537.9 L796.0 538.5 L802.2 544.2 L808.5 549.6 L814.7 559.2 L820.9 568.1 L827.2 576.4 L833.4 584.2 L839.7 591.7 L845.9 598.4 L852.2 603.4 L858.4 607.4 L864.7 610.1 L870.9 612.2 L877.1 614.4 L883.4 616.2 L889.6 617.3 L895.9 618.1 L902.1 618.3 L908.4 618.4 L914.6 618.4 L920.9 618.5 L927.1 618.5 L933.3 618.5 L939.6 618.6 L945.8 618.7 L952.1 619.1 L958.3 619.7 L964.6 620.1 L970.8 620.5 L977.1 620.9 L983.3 621.2 L989.5 621.4 L995.8 621.3 L1002.0 621.1 L1008.3 620.9 L1014.5 620.7 L1020.8 620.5 L1027.0 620.3 L1033.3 620.1 L1039.5 619.9 L1045.7 619.7 L1052.0 619.6 L1058.2 619.4 L1064.5 619.3 L1070.7 619.1 L1077.0 619.0 L1083.2 618.8 L1089.5 618.7 L1095.7 618.5 L1101.9 618.4 L1108.2 618.2 L1114.4 618.1 L1120.7 617.9 L1126.9 617.8 L1133.2 617.6 L1139.4 617.4 L1145.7 617.3 L1151.9 617.1 L1158.1 616.9 L1164.4 616.7 L1170.6 616.6 L1176.9 616.5 L1183.1 616.3 L1189.4 616.2 L1195.6 616.1 L1201.9 616.0 L1208.1 615.9 L1214.3 615.8 L1220.6 615.7 L1226.8 615.6 L1233.1 615.4 L1239.3 615.3 L1245.6 615.2 L1251.8 615.1 L1258.1 615.0 L1264.3 614.9 L1270.6 614.7 L1276.8 614.6 L1283.0 614.5 L1289.3 614.3 L1295.5 614.2 L1301.8 614.0 L1308.0 613.8 L1314.3 613.6 L1320.5 613.4 L1326.8 613.2 L1333.0 613.0 L1339.2 612.9 L1345.5 612.7 L1351.7 612.5 L1358.0 612.3 L1364.2 612.1 L1370.5 611.9 L1376.7 611.7 L1383.0 611.5 L1389.2 611.3 L1395.4 611.1 L1401.7 610.9 L1407.9 610.8 L1414.2 610.6 L1420.4 610.4 L1426.7 610.3 L1432.9 610.1 L1439.2 610.0 L1445.4 609.8 L1451.6 609.7 L1457.9 609.5 L1464.1 609.4 L1470.4 609.2 L1476.6 609.1 L1482.9 609.0 L1489.1 608.9 L1495.4 608.8 L1501.6 608.7 L1507.8 608.6 L1514.1 608.5 L1520.3 608.4 L1526.6 608.4 L1532.8 608.4 L1539.1 608.4 L1545.3 608.4 L1551.6 608.4 L1557.8 608.4" fill="none" stroke="#ec2639" stroke-width="3.6" stroke-linejoin="round" stroke-linecap="butt" />
<path d="M184.0 627.7 L300.0 627.7 L462.0 627.6 L470.0 626.5 L700.0 626.0 L860.0 624.9 L893.0 623.3 L975.0 621.8 L1047.0 619.7 L1118.0 618.0 L1170.0 616.6 L1257.0 615.0 L1300.0 614.1 L1334.0 613.0 L1406.0 610.8 L1480.0 609.0 L1520.0 608.4 L1556.0 608.4 L1557.8 608.4" fill="none" stroke="#ec2639" stroke-width="3.6" stroke-linejoin="round" stroke-linecap="butt" />
<path d="M458.0 345.1 L700.0 344.7" fill="none" stroke="#000" stroke-width="3.6" stroke-linejoin="round" stroke-linecap="butt" />
<path d="M184.0 334.7 L185.0 334.7 L190.1 335.9 L195.1 342.3 L207.7 344.8 L215.3 347.8 L221.6 347.8 L226.7 353.1 L232.2 344.8 L244.3 345.3 L251.9 349.9 L258.2 351.9 L264.0 356.7 L270.8 354.9 L277.1 352.4 L282.9 351.4 L290.2 358.2 L296.0 358.2 L302.8 354.4 L307.9 354.9 L314.9 358.4 L320.5 356.7 L332.1 362.0 L339.4 354.9 L345.2 354.4 L351.5 352.4 L358.6 352.4 L365.4 347.8 L370.9 342.3 L375.5 347.8 L381.8 347.8 L388.1 344.8 L395.1 349.9 L408.2 346.6 L417.1 350.6 L427.2 356.7 L434.7 344.8 L443.6 333.5 L449.9 336.0 L456.7 343.6 L464.2 346.1 L470.0 341.0 L480.1 328.4 L486.4 328.4 L500.3 337.3 L507.9 333.0 L512.9 325.9 L520.5 325.9 L526.8 321.6 L533.1 317.8 L538.1 307.0 L543.2 289.3 L552.0 251.5 L557.0 231.3 L562.1 201.1 L567.1 175.8 L572.2 158.2 L575.8 148.1 L582.1 138.0 L588.4 115.3 L593.5 107.7 L601.1 102.7 L605.3 106.0 L609.9 120.4 L613.7 134.2 L616.2 153.1 L618.2 169.5 L625.0 180.4 L633.1 175.1 L641.4 184.7 L650.7 192.2 L656.5 206.1 L663.4 222.5 L669.2 226.3 L674.2 236.4 L680.5 247.7 L686.8 260.8 L694.4 261.6 L707.0 273.7 L723.4 268.7 L730.9 268.7 L738.5 265.4 L744.8 256.5 L750.6 243.9 L757.4 239.4 L763.7 238.4 L770.0 221.2 L775.1 198.5 L780.1 175.8 L783.9 153.1 L786.4 122.9 L791.5 109.0 L794.8 104.0 L800.3 109.0 L806.6 126.7 L812.9 151.9 L818.0 180.9 L821.7 201.1 L824.8 220.7 L831.3 220.7 L836.9 214.9 L843.2 209.9 L850.2 193.0 L856.3 194.8 L862.1 204.8 L869.7 214.9 L875.8 222.5 L880.9 232.6 L887.2 254.0 L892.2 257.3 L901.1 257.8 L911.1 261.6 L918.7 265.4 L922.5 274.2 L927.5 278.7 L931.3 278.7 L936.4 274.2 L943.9 255.8 L950.2 262.8 L956.5 272.9 L961.6 284.3 L969.2 290.6 L975.5 297.7 L980.5 291.3 L987.3 294.4 L999.9 310.3 L1007.0 305.7 L1012.5 300.7 L1017.6 303.7 L1029.7 294.9 L1037.3 303.2 L1043.6 306.5 L1056.2 310.3 L1061.2 310.3 L1068.8 307.0 L1074.3 301.9 L1086.4 305.2 L1093.5 303.7 L1106.6 312.5 L1112.9 319.1 L1118.0 325.1 L1124.3 318.8 L1130.1 298.2 L1136.9 287.6 L1149.5 284.3 L1155.8 289.3 L1162.6 298.2 L1170.0 296.9 L1180.1 292.6 L1192.7 307.0 L1205.3 307.0 L1217.9 300.7 L1224.2 300.7 L1233.1 305.7 L1243.1 314.6 L1249.4 312.0 L1254.5 323.4 L1262.1 335.2 L1273.4 314.6 L1279.0 312.0 L1286.0 314.0 L1293.6 321.6 L1303.7 328.4 L1318.8 305.2 L1330.2 308.2 L1344.0 320.9 L1349.1 333.0 L1355.4 335.2 L1361.7 330.9 L1368.0 324.6 L1373.0 324.6 L1380.1 316.3 L1391.9 317.8 L1405.8 342.3 L1411.6 351.1 L1416.7 351.1 L1424.7 328.4 L1429.8 307.0 L1441.1 288.1 L1455.0 314.6 L1467.6 324.6 L1472.6 320.9 L1479.0 325.9 L1484.0 337.3 L1491.6 344.3 L1497.4 344.3 L1505.4 328.4 L1510.5 315.8 L1521.8 318.3 L1528.9 333.0 L1535.7 333.0 L1543.3 323.4 L1550.8 315.8 L1555.9 310.8 L1557.8 310.8" fill="none" stroke="#000" stroke-width="3.6" stroke-linejoin="round" stroke-linecap="butt" />
<path d="M184.0 340.9 L190.2 340.9 L196.5 340.9 L202.7 340.9 L209.0 340.9 L215.2 340.9 L221.5 340.9 L227.7 340.9 L234.0 340.9 L240.2 340.9 L246.4 340.9 L252.7 340.9 L258.9 340.8 L265.2 340.8 L271.4 340.5 L277.7 339.9 L283.9 339.6 L290.2 339.4 L296.4 339.2 L302.6 339.0 L308.9 338.9 L315.1 338.8 L321.4 338.6 L327.6 338.5 L333.9 338.4 L340.1 338.3 L346.4 338.1 L352.6 337.9 L358.8 337.7 L365.1 337.4 L371.3 337.1 L377.6 336.8 L383.8 336.5 L390.1 336.2 L396.3 335.8 L402.6 335.4 L408.8 335.0 L415.0 334.6 L421.3 334.1 L427.5 333.6 L433.8 333.1 L440.0 332.5 L446.3 331.8 L452.5 331.0 L458.8 330.0 L465.0 329.0 L471.2 327.9 L477.5 326.6 L483.7 325.0 L490.0 323.2 L496.2 321.1 L502.5 318.8 L508.7 316.0 L515.0 312.6 L521.2 308.4 L527.5 303.3 L533.7 296.6 L539.9 285.9 L546.2 272.4 L552.4 256.2 L558.7 240.3 L564.9 219.9 L571.2 190.1 L577.4 166.9 L583.7 144.0 L589.9 127.1 L596.1 115.5 L602.4 108.1 L608.6 107.2 L614.9 113.0 L621.1 125.2 L627.4 138.3 L633.6 155.0 L639.9 174.8 L646.1 191.3 L652.3 205.4 L658.6 218.3 L664.8 229.1 L671.1 238.1 L677.3 245.9 L683.6 251.6 L689.8 255.5 L696.1 258.6 L702.3 261.4 L708.5 263.2 L714.8 264.6 L721.0 265.4 L727.3 264.8 L733.5 263.2 L739.8 260.8 L746.0 257.0 L752.3 251.7 L758.5 244.8 L764.7 234.3 L771.0 216.8 L777.2 189.5 L783.5 155.7 L789.7 119.0 L796.0 104.8 L802.2 123.0 L808.5 147.9 L814.7 172.0 L820.9 190.7 L827.2 203.2 L833.4 208.9 L839.7 214.3 L845.9 218.8 L852.2 222.1 L858.4 225.1 L864.7 228.1 L870.9 231.3 L877.1 235.2 L883.4 239.6 L889.6 244.1 L895.9 248.9 L902.1 253.5 L908.4 258.0 L914.6 262.4 L920.9 267.0 L927.1 272.0 L933.3 277.1 L939.6 282.3 L945.8 287.4 L952.1 292.3 L958.3 297.0 L964.6 301.5 L970.8 305.4 L977.1 308.9 L983.3 312.1 L989.5 314.6 L995.8 316.7 L1002.0 318.4 L1008.3 319.9 L1014.5 321.4 L1020.8 322.6 L1027.0 323.7 L1033.3 324.5 L1039.5 325.3 L1045.7 326.0 L1052.0 326.7 L1058.2 327.4 L1064.5 327.9 L1070.7 328.0 L1077.0 328.0 L1083.2 327.9 L1089.5 327.8 L1095.7 327.8 L1101.9 327.6 L1108.2 327.5 L1114.4 327.4 L1120.7 327.3 L1126.9 327.2 L1133.2 327.1 L1139.4 327.0 L1145.7 326.9 L1151.9 326.8 L1158.1 326.7 L1164.4 326.6 L1170.6 326.4 L1176.9 326.3 L1183.1 326.1 L1189.4 325.9 L1195.6 325.7 L1201.9 325.5 L1208.1 325.3 L1214.3 325.2 L1220.6 325.0 L1226.8 324.8 L1233.1 324.6 L1239.3 324.4 L1245.6 324.2 L1251.8 324.1 L1258.1 323.9 L1264.3 323.7 L1270.6 323.4 L1276.8 323.2 L1283.0 323.0 L1289.3 322.8 L1295.5 322.6 L1301.8 322.3 L1308.0 322.1 L1314.3 321.9 L1320.5 321.7 L1326.8 321.5 L1333.0 321.3 L1339.2 321.1 L1345.5 320.9 L1351.7 320.7 L1358.0 320.5 L1364.2 320.3 L1370.5 320.1 L1376.7 320.0 L1383.0 319.8 L1389.2 319.6 L1395.4 319.4 L1401.7 319.2 L1407.9 319.0 L1414.2 318.8 L1420.4 318.6 L1426.7 318.4 L1432.9 318.2 L1439.2 318.0 L1445.4 317.8 L1451.6 317.5 L1457.9 317.3 L1464.1 317.1 L1470.4 316.9 L1476.6 316.7 L1482.9 316.5 L1489.1 316.3 L1495.4 316.1 L1501.6 315.9 L1507.8 315.7 L1514.1 315.5 L1520.3 315.3 L1526.6 315.2 L1532.8 315.0 L1539.1 314.7 L1545.3 314.1 L1551.6 313.3 L1557.8 313.0" fill="none" stroke="#059142" stroke-width="3.6" stroke-linejoin="round" stroke-linecap="butt" />
<path d="M184.0 341.0 L190.2 341.0 L196.5 341.0 L202.7 341.0 L209.0 341.0 L215.2 340.9 L221.5 340.9 L227.7 340.8 L234.0 340.8 L240.2 340.7 L246.4 340.7 L252.7 340.6 L258.9 340.5 L265.2 340.5 L271.4 340.4 L277.7 340.3 L283.9 340.2 L290.2 340.1 L296.4 340.0 L302.6 339.9 L308.9 339.8 L315.1 339.6 L321.4 339.5 L327.6 339.3 L333.9 339.1 L340.1 338.9 L346.4 338.7 L352.6 338.5 L358.8 338.2 L365.1 338.0 L371.3 337.7 L377.6 337.4 L383.8 337.1 L390.1 336.8 L396.3 336.3 L402.6 335.8 L408.8 335.2 L415.0 334.6 L421.3 334.0 L427.5 333.4 L433.8 332.8 L440.0 332.3 L446.3 331.7 L452.5 331.0 L458.8 330.3 L465.0 329.3 L471.2 328.2 L477.5 326.9 L483.7 325.7 L490.0 324.5 L496.2 323.1 L502.5 321.5 L508.7 319.5 L515.0 317.0 L521.2 314.2 L527.5 310.6 L533.7 306.6 L539.9 302.3 L546.2 297.8 L552.4 292.6 L558.7 287.8 L564.9 284.7 L571.2 281.8 L577.4 277.5 L583.7 272.1 L589.9 266.7 L596.1 261.5 L602.4 256.6 L608.6 252.4 L614.9 248.7 L621.1 245.7 L627.4 243.6 L633.6 242.2 L639.9 241.5 L646.1 242.0 L652.3 243.9 L658.6 246.5 L664.8 250.3 L671.1 254.9 L677.3 260.1 L683.6 264.4 L689.8 268.3 L696.1 272.7 L702.3 277.6 L708.5 282.4 L714.8 287.1 L721.0 291.6 L727.3 295.8 L733.5 299.8 L739.8 303.2 L746.0 306.2 L752.3 308.9 L758.5 311.5 L764.7 314.0 L771.0 316.3 L777.2 318.2 L783.5 320.0 L789.7 321.5 L796.0 322.7 L802.2 323.7 L808.5 324.5 L814.7 325.2 L820.9 326.0 L827.2 326.9 L833.4 327.9 L839.7 328.7 L845.9 329.2 L852.2 329.4 L858.4 329.6 L864.7 329.8 L870.9 329.9 L877.1 330.0 L883.4 330.1 L889.6 330.2 L895.9 330.2 L902.1 330.2 L908.4 330.2 L914.6 330.2 L920.9 330.2 L927.1 330.2 L933.3 330.2 L939.6 330.2 L945.8 330.2 L952.1 330.2 L958.3 330.2 L964.6 330.2 L970.8 330.2 L977.1 330.2 L983.3 330.2 L989.5 330.2 L995.8 330.2 L1002.0 330.2 L1008.3 330.2 L1014.5 330.2 L1020.8 330.2 L1027.0 330.2 L1033.3 330.2 L1039.5 330.2 L1045.7 330.2 L1052.0 330.2 L1058.2 330.2 L1064.5 330.1 L1070.7 330.1 L1077.0 330.1 L1083.2 330.1 L1089.5 330.1 L1095.7 330.0 L1101.9 329.9 L1108.2 329.9 L1114.4 329.8 L1120.7 329.6 L1126.9 329.4 L1133.2 329.1 L1139.4 328.8 L1145.7 328.6 L1151.9 328.3 L1158.1 328.0 L1164.4 327.7 L1170.6 327.5 L1176.9 327.3 L1183.1 327.1 L1189.4 326.8 L1195.6 326.6 L1201.9 326.4 L1208.1 326.2 L1214.3 326.0 L1220.6 325.7 L1226.8 325.5 L1233.1 325.3 L1239.3 325.0 L1245.6 324.8 L1251.8 324.6 L1258.1 324.4 L1264.3 324.1 L1270.6 323.9 L1276.8 323.7 L1283.0 323.5 L1289.3 323.3 L1295.5 323.1 L1301.8 322.9 L1308.0 322.6 L1314.3 322.4 L1320.5 322.2 L1326.8 322.0 L1333.0 321.8 L1339.2 321.6 L1345.5 321.4 L1351.7 321.2 L1358.0 321.0 L1364.2 320.8 L1370.5 320.6 L1376.7 320.5 L1383.0 320.3 L1389.2 320.1 L1395.4 319.9 L1401.7 319.7 L1407.9 319.5 L1414.2 319.3 L1420.4 319.1 L1426.7 318.9 L1432.9 318.7 L1439.2 318.5 L1445.4 318.3 L1451.6 318.0 L1457.9 317.8 L1464.1 317.6 L1470.4 317.4 L1476.6 317.2 L1482.9 317.0 L1489.1 316.8 L1495.4 316.6 L1501.6 316.4 L1507.8 316.2 L1514.1 316.0 L1520.3 315.9 L1526.6 315.6 L1532.8 315.3 L1539.1 314.8 L1545.3 314.1 L1551.6 313.6 L1557.8 313.5" fill="none" stroke="#2f4eae" stroke-width="3.6" stroke-linejoin="round" stroke-linecap="butt" />
<path d="M184.0 345.0 L190.2 345.0 L196.5 345.0 L202.7 345.0 L209.0 345.0 L215.2 345.0 L221.5 345.0 L227.7 345.0 L234.0 345.0 L240.2 345.0 L246.4 344.9 L252.7 344.9 L258.9 344.9 L265.2 344.9 L271.4 344.9 L277.7 344.9 L283.9 344.9 L290.2 344.9 L296.4 344.9 L302.6 344.9 L308.9 344.9 L315.1 344.9 L321.4 344.9 L327.6 344.8 L333.9 344.8 L340.1 344.8 L346.4 344.8 L352.6 344.8 L358.8 344.8 L365.1 344.8 L371.3 344.8 L377.6 344.7 L383.8 344.7 L390.1 344.7 L396.3 344.7 L402.6 344.7 L408.8 344.7 L415.0 344.7 L421.3 344.7 L427.5 344.7 L433.8 344.6 L440.0 344.6 L446.3 344.6 L452.5 344.6 L458.8 344.5 L465.0 344.1 L471.2 343.6 L477.5 343.2 L483.7 343.0 L490.0 343.0 L496.2 342.9 L502.5 342.9 L508.7 342.9 L515.0 342.9 L521.2 342.9 L527.5 342.9 L533.7 342.9 L539.9 342.8 L546.2 342.8 L552.4 342.8 L558.7 342.8 L564.9 342.8 L571.2 342.8 L577.4 342.7 L583.7 342.7 L589.9 342.7 L596.1 342.7 L602.4 342.6 L608.6 342.5 L614.9 342.4 L621.1 342.2 L627.4 341.3 L633.6 340.2 L639.9 339.4 L646.1 338.8 L652.3 338.2 L658.6 337.5 L664.8 336.9 L671.1 336.1 L677.3 335.4 L683.6 334.5 L689.8 333.4 L696.1 332.2 L702.3 330.7 L708.5 328.8 L714.8 326.5 L721.0 324.0 L727.3 321.1 L733.5 317.9 L739.8 314.4 L746.0 310.7 L752.3 306.6 L758.5 301.8 L764.7 296.7 L771.0 291.5 L777.2 286.4 L783.5 281.0 L789.7 275.2 L796.0 269.4 L802.2 264.3 L808.5 259.5 L814.7 255.4 L820.9 251.8 L827.2 248.8 L833.4 246.3 L839.7 244.3 L845.9 243.9 L852.2 243.9 L858.4 244.1 L864.7 244.6 L870.9 246.0 L877.1 248.3 L883.4 252.1 L889.6 255.9 L895.9 258.8 L902.1 262.3 L908.4 268.2 L914.6 272.1 L920.9 276.1 L927.1 282.4 L933.3 286.2 L939.6 290.4 L945.8 295.3 L952.1 299.8 L958.3 303.8 L964.6 307.3 L970.8 309.9 L977.1 312.2 L983.3 315.3 L989.5 318.6 L995.8 321.1 L1002.0 323.1 L1008.3 325.1 L1014.5 327.3 L1020.8 328.5 L1027.0 329.0 L1033.3 329.4 L1039.5 329.6 L1045.7 329.7 L1052.0 329.7 L1058.2 329.7 L1064.5 329.7 L1070.7 329.7 L1077.0 329.7 L1083.2 329.7 L1089.5 329.7 L1095.7 329.7 L1101.9 329.8 L1108.2 329.8 L1114.4 329.8 L1120.7 329.7 L1126.9 329.5 L1133.2 329.2 L1139.4 328.9 L1145.7 328.6 L1151.9 328.3 L1158.1 328.0 L1164.4 327.7 L1170.6 327.5 L1176.9 327.3 L1183.1 327.1 L1189.4 326.8 L1195.6 326.6 L1201.9 326.4 L1208.1 326.2 L1214.3 326.0 L1220.6 325.7 L1226.8 325.5 L1233.1 325.3 L1239.3 325.0 L1245.6 324.8 L1251.8 324.6 L1258.1 324.4 L1264.3 324.1 L1270.6 323.9 L1276.8 323.7 L1283.0 323.5 L1289.3 323.3 L1295.5 323.1 L1301.8 322.9 L1308.0 322.6 L1314.3 322.4 L1320.5 322.2 L1326.8 322.0 L1333.0 321.8 L1339.2 321.6 L1345.5 321.4 L1351.7 321.2 L1358.0 321.0 L1364.2 320.8 L1370.5 320.6 L1376.7 320.5 L1383.0 320.3 L1389.2 320.1 L1395.4 319.9 L1401.7 319.7 L1407.9 319.5 L1414.2 319.3 L1420.4 319.1 L1426.7 318.9 L1432.9 318.7 L1439.2 318.5 L1445.4 318.3 L1451.6 318.0 L1457.9 317.8 L1464.1 317.6 L1470.4 317.4 L1476.6 317.2 L1482.9 317.0 L1489.1 316.8 L1495.4 316.6 L1501.6 316.4 L1507.8 316.2 L1514.1 316.0 L1520.3 315.9 L1526.6 315.6 L1532.8 315.3 L1539.1 314.8 L1545.3 314.1 L1551.6 313.6 L1557.8 313.5" fill="none" stroke="#2f4eae" stroke-width="3.6" stroke-linejoin="round" stroke-linecap="butt" />
<path d="M184.0 345.0 L190.2 345.0 L196.5 345.0 L202.7 345.0 L209.0 345.0 L215.2 345.0 L221.5 345.0 L227.7 345.0 L234.0 345.0 L240.2 345.0 L246.4 344.9 L252.7 344.9 L258.9 344.9 L265.2 344.9 L271.4 344.9 L277.7 344.9 L283.9 344.9 L290.2 344.9 L296.4 344.9 L302.6 344.9 L308.9 344.9 L315.1 344.9 L321.4 344.9 L327.6 344.8 L333.9 344.8 L340.1 344.8 L346.4 344.8 L352.6 344.8 L358.8 344.8 L365.1 344.8 L371.3 344.8 L377.6 344.7 L383.8 344.7 L390.1 344.7 L396.3 344.7 L402.6 344.7 L408.8 344.7 L415.0 344.7 L421.3 344.7 L427.5 344.7 L433.8 344.6 L440.0 344.6 L446.3 344.6 L452.5 344.6 L458.8 344.4 L465.0 344.0 L471.2 343.4 L477.5 343.0 L483.7 343.0 L490.0 343.2 L496.2 343.3 L502.5 342.9 L508.7 342.2 L515.0 341.1 L521.2 339.6 L527.5 337.5 L533.7 334.3 L539.9 327.0 L546.2 316.8 L552.4 303.7 L558.7 291.6 L564.9 277.1 L571.2 256.6 L577.4 236.2 L583.7 219.7 L589.9 207.0 L596.1 198.3 L602.4 196.0 L608.6 198.0 L614.9 206.2 L621.1 221.1 L627.4 239.5 L633.6 258.1 L639.9 276.7 L646.1 294.9 L652.3 308.6 L658.6 319.3 L664.8 327.2 L671.1 333.0 L677.3 337.2 L683.6 339.9 L689.8 341.6 L696.1 342.5 L702.3 342.9 L708.5 343.0 L714.8 342.7 L721.0 342.1 L727.3 341.6 L733.5 341.5 L739.8 341.4 L746.0 341.3 L752.3 341.3 L758.5 341.2 L764.7 341.1 L771.0 341.1 L777.2 341.0 L783.5 340.8 L789.7 340.7 L796.0 340.6 L802.2 340.4 L808.5 340.2 L814.7 340.0 L820.9 339.8 L827.2 339.6 L833.4 339.4 L839.7 339.2 L845.9 339.0 L852.2 338.9 L858.4 338.7 L864.7 338.6 L870.9 338.5 L877.1 338.4 L883.4 338.3 L889.6 338.2 L895.9 338.1 L902.1 338.0 L908.4 337.9 L914.6 337.7 L920.9 337.6 L927.1 337.5 L933.3 337.4 L939.6 337.2 L945.8 337.1 L952.1 336.9 L958.3 336.8 L964.6 336.6 L970.8 336.4 L977.1 336.3 L983.3 336.1 L989.5 335.9 L995.8 335.7 L1002.0 335.6 L1008.3 335.4 L1014.5 335.2 L1020.8 335.0 L1027.0 334.8 L1033.3 334.6 L1039.5 334.4 L1045.7 334.2 L1052.0 334.1 L1058.2 333.9 L1064.5 333.7 L1070.7 333.5 L1077.0 333.3 L1083.2 333.0 L1089.5 332.8 L1095.7 332.6 L1101.9 332.4 L1108.2 332.2 L1114.4 332.0 L1120.7 331.8 L1126.9 331.5 L1133.2 331.3 L1139.4 331.1 L1145.7 330.8 L1151.9 330.6 L1158.1 330.4 L1164.4 330.1 L1170.6 329.9 L1176.9 329.7 L1183.1 329.5 L1189.4 329.2 L1195.6 329.0 L1201.9 328.8 L1208.1 328.6 L1214.3 328.4 L1220.6 328.2 L1226.8 328.0 L1233.1 327.8 L1239.3 327.5 L1245.6 327.3 L1251.8 327.1 L1258.1 326.9 L1264.3 326.6 L1270.6 326.4 L1276.8 326.2 L1283.0 326.0 L1289.3 325.8 L1295.5 325.5 L1301.8 325.3 L1308.0 325.1 L1314.3 324.9 L1320.5 324.7 L1326.8 324.5 L1333.0 324.3 L1339.2 324.1 L1345.5 323.9 L1351.7 323.7 L1358.0 323.5 L1364.2 323.3 L1370.5 323.1 L1376.7 323.0 L1383.0 322.8 L1389.2 322.6 L1395.4 322.4 L1401.7 322.2 L1407.9 322.0 L1414.2 321.8 L1420.4 321.6 L1426.7 321.4 L1432.9 321.2 L1439.2 321.0 L1445.4 320.8 L1451.6 320.5 L1457.9 320.3 L1464.1 320.1 L1470.4 319.9 L1476.6 319.7 L1482.9 319.5 L1489.1 319.3 L1495.4 319.1 L1501.6 318.9 L1507.8 318.7 L1514.1 318.5 L1520.3 318.3 L1526.6 318.2 L1532.8 318.0 L1539.1 317.7 L1545.3 317.1 L1551.6 316.3 L1557.8 316.0" fill="none" stroke="#ec2639" stroke-width="3.6" stroke-linejoin="round" stroke-linecap="butt" />
<path d="M184.0 345.0 L190.2 345.0 L196.5 345.0 L202.7 345.0 L209.0 345.0 L215.2 345.0 L221.5 345.0 L227.7 345.0 L234.0 345.0 L240.2 345.0 L246.4 344.9 L252.7 344.9 L258.9 344.9 L265.2 344.9 L271.4 344.9 L277.7 344.9 L283.9 344.9 L290.2 344.9 L296.4 344.9 L302.6 344.9 L308.9 344.9 L315.1 344.9 L321.4 344.9 L327.6 344.8 L333.9 344.8 L340.1 344.8 L346.4 344.8 L352.6 344.8 L358.8 344.8 L365.1 344.8 L371.3 344.8 L377.6 344.7 L383.8 344.7 L390.1 344.7 L396.3 344.7 L402.6 344.7 L408.8 344.7 L415.0 344.7 L421.3 344.7 L427.5 344.7 L433.8 344.6 L440.0 344.6 L446.3 344.6 L452.5 344.6 L458.8 344.5 L465.0 344.1 L471.2 343.6 L477.5 343.2 L483.7 343.0 L490.0 343.0 L496.2 342.9 L502.5 342.9 L508.7 342.9 L515.0 342.9 L521.2 342.9 L527.5 342.9 L533.7 342.9 L539.9 342.8 L546.2 342.8 L552.4 342.8 L558.7 342.8 L564.9 342.8 L571.2 342.8 L577.4 342.7 L583.7 342.7 L589.9 342.7 L596.1 342.7 L602.4 342.7 L608.6 342.7 L614.9 342.6 L621.1 342.6 L627.4 342.5 L633.6 342.2 L639.9 341.8 L646.1 341.3 L652.3 340.8 L658.6 340.2 L664.8 339.7 L671.1 339.2 L677.3 338.8 L683.6 338.4 L689.8 338.2 L696.1 338.0 L702.3 337.8 L708.5 337.5 L714.8 337.0 L721.0 335.9 L727.3 334.3 L733.5 332.3 L739.8 329.9 L746.0 326.7 L752.3 322.2 L758.5 315.3 L764.7 305.7 L771.0 291.7 L777.2 268.5 L783.5 236.5 L789.7 202.7 L796.0 193.5 L802.2 213.4 L808.5 249.1 L814.7 279.3 L820.9 297.7 L827.2 308.2 L833.4 314.9 L839.7 319.8 L845.9 323.5 L852.2 326.4 L858.4 328.4 L864.7 329.6 L870.9 330.6 L877.1 331.6 L883.4 332.6 L889.6 333.5 L895.9 334.0 L902.1 334.5 L908.4 334.8 L914.6 335.2 L920.9 335.5 L927.1 335.9 L933.3 336.4 L939.6 336.7 L945.8 336.9 L952.1 337.0 L958.3 336.9 L964.6 336.7 L970.8 336.5 L977.1 336.3 L983.3 336.1 L989.5 335.9 L995.8 335.7 L1002.0 335.6 L1008.3 335.4 L1014.5 335.2 L1020.8 335.0 L1027.0 334.8 L1033.3 334.6 L1039.5 334.4 L1045.7 334.2 L1052.0 334.0 L1058.2 333.8 L1064.5 333.7 L1070.7 333.5 L1077.0 333.3 L1083.2 333.0 L1089.5 332.8 L1095.7 332.6 L1101.9 332.4 L1108.2 332.2 L1114.4 332.0 L1120.7 331.8 L1126.9 331.5 L1133.2 331.3 L1139.4 331.1 L1145.7 330.8 L1151.9 330.6 L1158.1 330.3 L1164.4 330.1 L1170.6 329.9 L1176.9 329.7 L1183.1 329.5 L1189.4 329.3 L1195.6 329.0 L1201.9 328.8 L1208.1 328.6 L1214.3 328.4 L1220.6 328.2 L1226.8 328.0 L1233.1 327.8 L1239.3 327.5 L1245.6 327.3 L1251.8 327.1 L1258.1 326.9 L1264.3 326.6 L1270.6 326.4 L1276.8 326.2 L1283.0 326.0 L1289.3 325.8 L1295.5 325.6 L1301.8 325.4 L1308.0 325.1 L1314.3 324.9 L1320.5 324.7 L1326.8 324.5 L1333.0 324.3 L1339.2 324.1 L1345.5 323.9 L1351.7 323.7 L1358.0 323.5 L1364.2 323.3 L1370.5 323.1 L1376.7 323.0 L1383.0 322.8 L1389.2 322.6 L1395.4 322.4 L1401.7 322.2 L1407.9 322.0 L1414.2 321.8 L1420.4 321.6 L1426.7 321.4 L1432.9 321.2 L1439.2 321.0 L1445.4 320.8 L1451.6 320.5 L1457.9 320.3 L1464.1 320.1 L1470.4 319.9 L1476.6 319.7 L1482.9 319.5 L1489.1 319.3 L1495.4 319.1 L1501.6 318.9 L1507.8 318.7 L1514.1 318.5 L1520.3 318.3 L1526.6 318.1 L1532.8 318.0 L1539.1 317.8 L1545.3 317.6 L1551.6 317.0 L1557.8 316.0" fill="none" stroke="#ec2639" stroke-width="3.6" stroke-linejoin="round" stroke-linecap="butt" />
<path d="M184.0 345.0 L300.0 344.9 L455.0 344.6 L463.0 343.2 L480.0 343.0 L630.0 342.6 L780.0 341.0 L860.0 338.6 L897.0 338.1 L950.0 337.0 L1008.0 335.4 L1057.0 333.9 L1112.0 332.1 L1170.0 329.9 L1215.0 328.4 L1271.0 326.4 L1300.0 325.4 L1372.0 323.1 L1435.0 321.1 L1498.0 319.0 L1530.0 318.0 L1550.0 317.3 L1554.0 316.3 L1556.0 316.0 L1557.8 316.0" fill="none" stroke="#ec2639" stroke-width="3.6" stroke-linejoin="round" stroke-linecap="butt" />
</g>
<text transform="translate(184.0 1106.8) scale(0.95 1.012)" font-family="'Liberation Serif', serif" font-size="76" text-anchor="middle" class="k">65</text>
<text transform="translate(495.1 1106.8) scale(0.95 1.012)" font-family="'Liberation Serif', serif" font-size="76" text-anchor="middle" class="k">70</text>
<text transform="translate(807.9 1106.8) scale(0.95 1.012)" font-family="'Liberation Serif', serif" font-size="76" text-anchor="middle" class="k">75</text>
<text transform="translate(1119.1 1106.8) scale(0.95 1.012)" font-family="'Liberation Serif', serif" font-size="76" text-anchor="middle" class="k">80</text>
<text transform="translate(1430.1 1106.8) scale(0.95 1.012)" font-family="'Liberation Serif', serif" font-size="76" text-anchor="middle" class="k">85</text>
<text transform="translate(869.5 1203.2) scale(0.949 1)" font-family="'Liberation Serif', serif" font-size="75" text-anchor="middle" class="k">Binding Energy (eV)</text>
<text transform="translate(68.7 487.5) rotate(-90)" font-family="'Liberation Serif', serif" font-size="75" text-anchor="middle" class="k">Intensity (a.u.)</text>
<text x="1180.1" y="285.5" font-family="'Liberation Serif', serif" font-size="68.5" letter-spacing="-0.3" class="k">Pt<tspan font-family="'DejaVu Serif', serif" font-size="67" dy="3.7" dx="1.4" style="stroke-width:0.4px">–</tspan><tspan dy="-3.7" dx="-0.6">out/CNTs</tspan></text>
<text x="1179.3" y="574.7" font-family="'Liberation Serif', serif" font-size="68.5" letter-spacing="-0.3" class="k">Pt<tspan font-family="'DejaVu Serif', serif" font-size="67" dy="3.7" dx="1.4" style="stroke-width:0.4px">–</tspan><tspan dy="-3.7" dx="-0.6">imp/CNTs</tspan></text>
<text x="1190.2" y="861.4" font-family="'Liberation Serif', serif" font-size="68.5" letter-spacing="-0.3" class="k">Pt<tspan font-family="'DejaVu Serif', serif" font-size="67" dy="3.7" dx="1.4" style="stroke-width:0.4px">–</tspan><tspan dy="-3.7" dx="-0.6">in/CNTs</tspan></text>
<text x="458.3" y="135.7" font-family="'Liberation Serif', serif" font-size="68" letter-spacing="-1.1" class="r">Pt<tspan font-size="41.5" dy="-36.0" dx="2.2" letter-spacing="0" style="stroke-width:0.3px">0</tspan></text>
<text x="897.2" y="135.7" font-family="'Liberation Serif', serif" font-size="68" letter-spacing="-0.6" class="b">Pt<tspan font-size="42" dy="-36.9" dx="1.8" letter-spacing="0" style="stroke-width:0.3px">2</tspan><tspan font-size="47" dy="1.7" dx="-2.6" letter-spacing="0" style="stroke:#fff;stroke-width:0.6px">+</tspan></text>
<path d="M521.3 137.5 L590 186.5 M521.3 137.5 L775 191.5" stroke="#ec2639" stroke-width="1.7" fill="none"/>
<path d="M596.8 191.1 L572.4 184.2 L583.2 181.6 L581.9 171.1 Z" fill="#ec2639" stroke="#ec2639" stroke-width="1" stroke-linejoin="miter"/>
<path d="M785.0 193.9 L759.2 196.3 L769.2 190.6 L763.0 181.5 Z" fill="#ec2639" stroke="#ec2639" stroke-width="1" stroke-linejoin="miter"/>
<path d="M896.3 123.7 L655 234 M896.3 123.7 L860 230" stroke="#2f4eae" stroke-width="1.7" fill="none"/>
<path d="M644.4 238.7 L662.5 222.0 L659.3 231.8 L668.4 234.9 Z" fill="#2f4eae" stroke="#2f4eae" stroke-width="1" stroke-linejoin="miter"/>
<path d="M855.9 242.6 L855.2 216.6 L870.8 222.2 Z" fill="#2f4eae" stroke="#2f4eae" stroke-width="0.6" stroke-linejoin="miter"/>
</svg>
</body>
</html>
